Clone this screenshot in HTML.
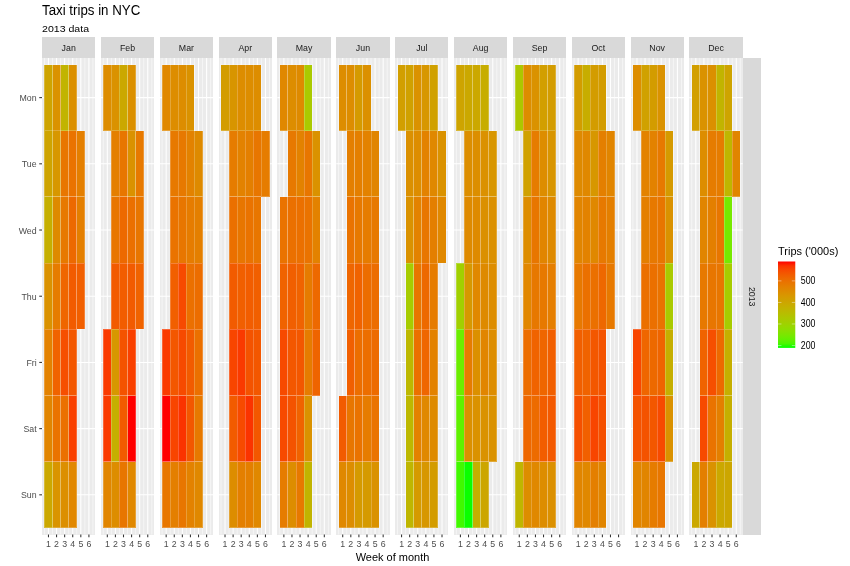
<!DOCTYPE html><html><head><meta charset="utf-8"><style>html,body{margin:0;padding:0;background:#fff;overflow:hidden}svg{display:block;will-change:transform}</style></head><body>
<svg width="850" height="566" viewBox="0 0 850 566">
<rect x="0" y="0" width="850" height="566" fill="#FFFFFF"/>
<text transform="translate(42.00,14.60) scale(1,1.09)" font-size="13.3" font-family="Liberation Sans, sans-serif" fill="#000000">Taxi trips in NYC</text>
<text transform="translate(42.00,32.00) scale(1,0.93)" font-size="10.6" font-family="Liberation Sans, sans-serif" fill="#000000">2013 data</text>
<rect x="42.00" y="37.2" width="53.38" height="20.70" fill="#D9D9D9" shape-rendering="crispEdges"/>
<text transform="translate(68.69,50.70) scale(1,1.1)" font-size="8.8" font-family="Liberation Sans, sans-serif" fill="#1A1A1A" text-anchor="middle">Jan</text>
<rect x="42.00" y="57.9" width="53.38" height="476.64" fill="#EBEBEB" shape-rendering="crispEdges"/>
<line x1="44.43" y1="57.9" x2="44.43" y2="534.5400000000001" stroke="#FFFFFF" stroke-width="0.53"/>
<line x1="52.51" y1="57.9" x2="52.51" y2="534.5400000000001" stroke="#FFFFFF" stroke-width="0.53"/>
<line x1="60.60" y1="57.9" x2="60.60" y2="534.5400000000001" stroke="#FFFFFF" stroke-width="0.53"/>
<line x1="68.69" y1="57.9" x2="68.69" y2="534.5400000000001" stroke="#FFFFFF" stroke-width="0.53"/>
<line x1="76.78" y1="57.9" x2="76.78" y2="534.5400000000001" stroke="#FFFFFF" stroke-width="0.53"/>
<line x1="84.87" y1="57.9" x2="84.87" y2="534.5400000000001" stroke="#FFFFFF" stroke-width="0.53"/>
<line x1="92.95" y1="57.9" x2="92.95" y2="534.5400000000001" stroke="#FFFFFF" stroke-width="0.53"/>
<line x1="48.47" y1="57.9" x2="48.47" y2="534.5400000000001" stroke="#FFFFFF" stroke-width="1.07"/>
<line x1="56.56" y1="57.9" x2="56.56" y2="534.5400000000001" stroke="#FFFFFF" stroke-width="1.07"/>
<line x1="64.65" y1="57.9" x2="64.65" y2="534.5400000000001" stroke="#FFFFFF" stroke-width="1.07"/>
<line x1="72.73" y1="57.9" x2="72.73" y2="534.5400000000001" stroke="#FFFFFF" stroke-width="1.07"/>
<line x1="80.82" y1="57.9" x2="80.82" y2="534.5400000000001" stroke="#FFFFFF" stroke-width="1.07"/>
<line x1="88.91" y1="57.9" x2="88.91" y2="534.5400000000001" stroke="#FFFFFF" stroke-width="1.07"/>
<line x1="42.00" y1="97.62" x2="95.38" y2="97.62" stroke="#FFFFFF" stroke-width="1.07"/>
<line x1="42.00" y1="163.82" x2="95.38" y2="163.82" stroke="#FFFFFF" stroke-width="1.07"/>
<line x1="42.00" y1="230.02" x2="95.38" y2="230.02" stroke="#FFFFFF" stroke-width="1.07"/>
<line x1="42.00" y1="296.22" x2="95.38" y2="296.22" stroke="#FFFFFF" stroke-width="1.07"/>
<line x1="42.00" y1="362.42" x2="95.38" y2="362.42" stroke="#FFFFFF" stroke-width="1.07"/>
<line x1="42.00" y1="428.62" x2="95.38" y2="428.62" stroke="#FFFFFF" stroke-width="1.07"/>
<line x1="42.00" y1="494.82" x2="95.38" y2="494.82" stroke="#FFFFFF" stroke-width="1.07"/>
<rect x="44.43" y="130.72" width="8.09" height="66.20" fill="#CEA400" stroke="#FFFFFF" stroke-opacity="0.22" stroke-width="1" shape-rendering="crispEdges"/>
<rect x="44.43" y="196.92" width="8.09" height="66.20" fill="#C5AF00" stroke="#FFFFFF" stroke-opacity="0.22" stroke-width="1" shape-rendering="crispEdges"/>
<rect x="44.43" y="263.12" width="8.09" height="66.20" fill="#DA9200" stroke="#FFFFFF" stroke-opacity="0.22" stroke-width="1" shape-rendering="crispEdges"/>
<rect x="44.43" y="329.32" width="8.09" height="66.20" fill="#E38200" stroke="#FFFFFF" stroke-opacity="0.22" stroke-width="1" shape-rendering="crispEdges"/>
<rect x="44.43" y="395.52" width="8.09" height="66.20" fill="#E18500" stroke="#FFFFFF" stroke-opacity="0.22" stroke-width="1" shape-rendering="crispEdges"/>
<rect x="44.43" y="461.72" width="8.09" height="66.20" fill="#CBA800" stroke="#FFFFFF" stroke-opacity="0.22" stroke-width="1" shape-rendering="crispEdges"/>
<rect x="44.43" y="64.52" width="8.09" height="66.20" fill="#CEA400" stroke="#FFFFFF" stroke-opacity="0.22" stroke-width="1" shape-rendering="crispEdges"/>
<rect x="52.51" y="130.72" width="8.09" height="66.20" fill="#D79700" stroke="#FFFFFF" stroke-opacity="0.22" stroke-width="1" shape-rendering="crispEdges"/>
<rect x="52.51" y="196.92" width="8.09" height="66.20" fill="#DE8A00" stroke="#FFFFFF" stroke-opacity="0.22" stroke-width="1" shape-rendering="crispEdges"/>
<rect x="52.51" y="263.12" width="8.09" height="66.20" fill="#E67C00" stroke="#FFFFFF" stroke-opacity="0.22" stroke-width="1" shape-rendering="crispEdges"/>
<rect x="52.51" y="329.32" width="8.09" height="66.20" fill="#F06300" stroke="#FFFFFF" stroke-opacity="0.22" stroke-width="1" shape-rendering="crispEdges"/>
<rect x="52.51" y="395.52" width="8.09" height="66.20" fill="#EA7300" stroke="#FFFFFF" stroke-opacity="0.22" stroke-width="1" shape-rendering="crispEdges"/>
<rect x="52.51" y="461.72" width="8.09" height="66.20" fill="#D99400" stroke="#FFFFFF" stroke-opacity="0.22" stroke-width="1" shape-rendering="crispEdges"/>
<rect x="52.51" y="64.52" width="8.09" height="66.20" fill="#DA9200" stroke="#FFFFFF" stroke-opacity="0.22" stroke-width="1" shape-rendering="crispEdges"/>
<rect x="60.60" y="130.72" width="8.09" height="66.20" fill="#E87600" stroke="#FFFFFF" stroke-opacity="0.22" stroke-width="1" shape-rendering="crispEdges"/>
<rect x="60.60" y="196.92" width="8.09" height="66.20" fill="#E77900" stroke="#FFFFFF" stroke-opacity="0.22" stroke-width="1" shape-rendering="crispEdges"/>
<rect x="60.60" y="263.12" width="8.09" height="66.20" fill="#EF6600" stroke="#FFFFFF" stroke-opacity="0.22" stroke-width="1" shape-rendering="crispEdges"/>
<rect x="60.60" y="329.32" width="8.09" height="66.20" fill="#F64F00" stroke="#FFFFFF" stroke-opacity="0.22" stroke-width="1" shape-rendering="crispEdges"/>
<rect x="60.60" y="395.52" width="8.09" height="66.20" fill="#EB7000" stroke="#FFFFFF" stroke-opacity="0.22" stroke-width="1" shape-rendering="crispEdges"/>
<rect x="60.60" y="461.72" width="8.09" height="66.20" fill="#DC8F00" stroke="#FFFFFF" stroke-opacity="0.22" stroke-width="1" shape-rendering="crispEdges"/>
<rect x="60.60" y="64.52" width="8.09" height="66.20" fill="#C1B400" stroke="#FFFFFF" stroke-opacity="0.22" stroke-width="1" shape-rendering="crispEdges"/>
<rect x="68.69" y="130.72" width="8.09" height="66.20" fill="#EA7300" stroke="#FFFFFF" stroke-opacity="0.22" stroke-width="1" shape-rendering="crispEdges"/>
<rect x="68.69" y="196.92" width="8.09" height="66.20" fill="#ED6900" stroke="#FFFFFF" stroke-opacity="0.22" stroke-width="1" shape-rendering="crispEdges"/>
<rect x="68.69" y="263.12" width="8.09" height="66.20" fill="#F25B00" stroke="#FFFFFF" stroke-opacity="0.22" stroke-width="1" shape-rendering="crispEdges"/>
<rect x="68.69" y="329.32" width="8.09" height="66.20" fill="#F35700" stroke="#FFFFFF" stroke-opacity="0.22" stroke-width="1" shape-rendering="crispEdges"/>
<rect x="68.69" y="395.52" width="8.09" height="66.20" fill="#F94000" stroke="#FFFFFF" stroke-opacity="0.22" stroke-width="1" shape-rendering="crispEdges"/>
<rect x="68.69" y="461.72" width="8.09" height="66.20" fill="#E18700" stroke="#FFFFFF" stroke-opacity="0.22" stroke-width="1" shape-rendering="crispEdges"/>
<rect x="68.69" y="64.52" width="8.09" height="66.20" fill="#DB9000" stroke="#FFFFFF" stroke-opacity="0.22" stroke-width="1" shape-rendering="crispEdges"/>
<rect x="76.78" y="130.72" width="8.09" height="66.20" fill="#E47F00" stroke="#FFFFFF" stroke-opacity="0.22" stroke-width="1" shape-rendering="crispEdges"/>
<rect x="76.78" y="196.92" width="8.09" height="66.20" fill="#E47F00" stroke="#FFFFFF" stroke-opacity="0.22" stroke-width="1" shape-rendering="crispEdges"/>
<rect x="76.78" y="263.12" width="8.09" height="66.20" fill="#F15F00" stroke="#FFFFFF" stroke-opacity="0.22" stroke-width="1" shape-rendering="crispEdges"/>
<line x1="48.47" y1="534.5400000000001" x2="48.47" y2="537.29" stroke="#333333" stroke-width="1.07"/>
<text transform="translate(48.47,546.90) scale(1,1.12)" font-size="8.8" font-family="Liberation Sans, sans-serif" fill="#4D4D4D" text-anchor="middle">1</text>
<line x1="56.56" y1="534.5400000000001" x2="56.56" y2="537.29" stroke="#333333" stroke-width="1.07"/>
<text transform="translate(56.56,546.90) scale(1,1.12)" font-size="8.8" font-family="Liberation Sans, sans-serif" fill="#4D4D4D" text-anchor="middle">2</text>
<line x1="64.65" y1="534.5400000000001" x2="64.65" y2="537.29" stroke="#333333" stroke-width="1.07"/>
<text transform="translate(64.65,546.90) scale(1,1.12)" font-size="8.8" font-family="Liberation Sans, sans-serif" fill="#4D4D4D" text-anchor="middle">3</text>
<line x1="72.73" y1="534.5400000000001" x2="72.73" y2="537.29" stroke="#333333" stroke-width="1.07"/>
<text transform="translate(72.73,546.90) scale(1,1.12)" font-size="8.8" font-family="Liberation Sans, sans-serif" fill="#4D4D4D" text-anchor="middle">4</text>
<line x1="80.82" y1="534.5400000000001" x2="80.82" y2="537.29" stroke="#333333" stroke-width="1.07"/>
<text transform="translate(80.82,546.90) scale(1,1.12)" font-size="8.8" font-family="Liberation Sans, sans-serif" fill="#4D4D4D" text-anchor="middle">5</text>
<line x1="88.91" y1="534.5400000000001" x2="88.91" y2="537.29" stroke="#333333" stroke-width="1.07"/>
<text transform="translate(88.91,546.90) scale(1,1.12)" font-size="8.8" font-family="Liberation Sans, sans-serif" fill="#4D4D4D" text-anchor="middle">6</text>
<rect x="100.85" y="37.2" width="53.38" height="20.70" fill="#D9D9D9" shape-rendering="crispEdges"/>
<text transform="translate(127.54,50.70) scale(1,1.1)" font-size="8.8" font-family="Liberation Sans, sans-serif" fill="#1A1A1A" text-anchor="middle">Feb</text>
<rect x="100.85" y="57.9" width="53.38" height="476.64" fill="#EBEBEB" shape-rendering="crispEdges"/>
<line x1="103.28" y1="57.9" x2="103.28" y2="534.5400000000001" stroke="#FFFFFF" stroke-width="0.53"/>
<line x1="111.36" y1="57.9" x2="111.36" y2="534.5400000000001" stroke="#FFFFFF" stroke-width="0.53"/>
<line x1="119.45" y1="57.9" x2="119.45" y2="534.5400000000001" stroke="#FFFFFF" stroke-width="0.53"/>
<line x1="127.54" y1="57.9" x2="127.54" y2="534.5400000000001" stroke="#FFFFFF" stroke-width="0.53"/>
<line x1="135.63" y1="57.9" x2="135.63" y2="534.5400000000001" stroke="#FFFFFF" stroke-width="0.53"/>
<line x1="143.72" y1="57.9" x2="143.72" y2="534.5400000000001" stroke="#FFFFFF" stroke-width="0.53"/>
<line x1="151.80" y1="57.9" x2="151.80" y2="534.5400000000001" stroke="#FFFFFF" stroke-width="0.53"/>
<line x1="107.32" y1="57.9" x2="107.32" y2="534.5400000000001" stroke="#FFFFFF" stroke-width="1.07"/>
<line x1="115.41" y1="57.9" x2="115.41" y2="534.5400000000001" stroke="#FFFFFF" stroke-width="1.07"/>
<line x1="123.50" y1="57.9" x2="123.50" y2="534.5400000000001" stroke="#FFFFFF" stroke-width="1.07"/>
<line x1="131.58" y1="57.9" x2="131.58" y2="534.5400000000001" stroke="#FFFFFF" stroke-width="1.07"/>
<line x1="139.67" y1="57.9" x2="139.67" y2="534.5400000000001" stroke="#FFFFFF" stroke-width="1.07"/>
<line x1="147.76" y1="57.9" x2="147.76" y2="534.5400000000001" stroke="#FFFFFF" stroke-width="1.07"/>
<line x1="100.85" y1="97.62" x2="154.23" y2="97.62" stroke="#FFFFFF" stroke-width="1.07"/>
<line x1="100.85" y1="163.82" x2="154.23" y2="163.82" stroke="#FFFFFF" stroke-width="1.07"/>
<line x1="100.85" y1="230.02" x2="154.23" y2="230.02" stroke="#FFFFFF" stroke-width="1.07"/>
<line x1="100.85" y1="296.22" x2="154.23" y2="296.22" stroke="#FFFFFF" stroke-width="1.07"/>
<line x1="100.85" y1="362.42" x2="154.23" y2="362.42" stroke="#FFFFFF" stroke-width="1.07"/>
<line x1="100.85" y1="428.62" x2="154.23" y2="428.62" stroke="#FFFFFF" stroke-width="1.07"/>
<line x1="100.85" y1="494.82" x2="154.23" y2="494.82" stroke="#FFFFFF" stroke-width="1.07"/>
<rect x="103.28" y="329.32" width="8.09" height="66.20" fill="#FA3A00" stroke="#FFFFFF" stroke-opacity="0.22" stroke-width="1" shape-rendering="crispEdges"/>
<rect x="103.28" y="395.52" width="8.09" height="66.20" fill="#FA3A00" stroke="#FFFFFF" stroke-opacity="0.22" stroke-width="1" shape-rendering="crispEdges"/>
<rect x="103.28" y="461.72" width="8.09" height="66.20" fill="#E18500" stroke="#FFFFFF" stroke-opacity="0.22" stroke-width="1" shape-rendering="crispEdges"/>
<rect x="103.28" y="64.52" width="8.09" height="66.20" fill="#DD8D00" stroke="#FFFFFF" stroke-opacity="0.22" stroke-width="1" shape-rendering="crispEdges"/>
<rect x="111.36" y="130.72" width="8.09" height="66.20" fill="#E47F00" stroke="#FFFFFF" stroke-opacity="0.22" stroke-width="1" shape-rendering="crispEdges"/>
<rect x="111.36" y="196.92" width="8.09" height="66.20" fill="#E87600" stroke="#FFFFFF" stroke-opacity="0.22" stroke-width="1" shape-rendering="crispEdges"/>
<rect x="111.36" y="263.12" width="8.09" height="66.20" fill="#F25B00" stroke="#FFFFFF" stroke-opacity="0.22" stroke-width="1" shape-rendering="crispEdges"/>
<rect x="111.36" y="329.32" width="8.09" height="66.20" fill="#D79700" stroke="#FFFFFF" stroke-opacity="0.22" stroke-width="1" shape-rendering="crispEdges"/>
<rect x="111.36" y="395.52" width="8.09" height="66.20" fill="#C5AF00" stroke="#FFFFFF" stroke-opacity="0.22" stroke-width="1" shape-rendering="crispEdges"/>
<rect x="111.36" y="461.72" width="8.09" height="66.20" fill="#DD8D00" stroke="#FFFFFF" stroke-opacity="0.22" stroke-width="1" shape-rendering="crispEdges"/>
<rect x="111.36" y="64.52" width="8.09" height="66.20" fill="#DA9200" stroke="#FFFFFF" stroke-opacity="0.22" stroke-width="1" shape-rendering="crispEdges"/>
<rect x="119.45" y="130.72" width="8.09" height="66.20" fill="#E87600" stroke="#FFFFFF" stroke-opacity="0.22" stroke-width="1" shape-rendering="crispEdges"/>
<rect x="119.45" y="196.92" width="8.09" height="66.20" fill="#ED6900" stroke="#FFFFFF" stroke-opacity="0.22" stroke-width="1" shape-rendering="crispEdges"/>
<rect x="119.45" y="263.12" width="8.09" height="66.20" fill="#F25D00" stroke="#FFFFFF" stroke-opacity="0.22" stroke-width="1" shape-rendering="crispEdges"/>
<rect x="119.45" y="329.32" width="8.09" height="66.20" fill="#F45300" stroke="#FFFFFF" stroke-opacity="0.22" stroke-width="1" shape-rendering="crispEdges"/>
<rect x="119.45" y="395.52" width="8.09" height="66.20" fill="#F25B00" stroke="#FFFFFF" stroke-opacity="0.22" stroke-width="1" shape-rendering="crispEdges"/>
<rect x="119.45" y="461.72" width="8.09" height="66.20" fill="#E87600" stroke="#FFFFFF" stroke-opacity="0.22" stroke-width="1" shape-rendering="crispEdges"/>
<rect x="119.45" y="64.52" width="8.09" height="66.20" fill="#CBA800" stroke="#FFFFFF" stroke-opacity="0.22" stroke-width="1" shape-rendering="crispEdges"/>
<rect x="127.54" y="130.72" width="8.09" height="66.20" fill="#DA9200" stroke="#FFFFFF" stroke-opacity="0.22" stroke-width="1" shape-rendering="crispEdges"/>
<rect x="127.54" y="196.92" width="8.09" height="66.20" fill="#EB7000" stroke="#FFFFFF" stroke-opacity="0.22" stroke-width="1" shape-rendering="crispEdges"/>
<rect x="127.54" y="263.12" width="8.09" height="66.20" fill="#F25B00" stroke="#FFFFFF" stroke-opacity="0.22" stroke-width="1" shape-rendering="crispEdges"/>
<rect x="127.54" y="329.32" width="8.09" height="66.20" fill="#F94000" stroke="#FFFFFF" stroke-opacity="0.22" stroke-width="1" shape-rendering="crispEdges"/>
<rect x="127.54" y="395.52" width="8.09" height="66.20" fill="#FF0000" stroke="#FFFFFF" stroke-opacity="0.22" stroke-width="1" shape-rendering="crispEdges"/>
<rect x="127.54" y="461.72" width="8.09" height="66.20" fill="#E08800" stroke="#FFFFFF" stroke-opacity="0.22" stroke-width="1" shape-rendering="crispEdges"/>
<rect x="127.54" y="64.52" width="8.09" height="66.20" fill="#DB9000" stroke="#FFFFFF" stroke-opacity="0.22" stroke-width="1" shape-rendering="crispEdges"/>
<rect x="135.63" y="130.72" width="8.09" height="66.20" fill="#E77900" stroke="#FFFFFF" stroke-opacity="0.22" stroke-width="1" shape-rendering="crispEdges"/>
<rect x="135.63" y="196.92" width="8.09" height="66.20" fill="#E87600" stroke="#FFFFFF" stroke-opacity="0.22" stroke-width="1" shape-rendering="crispEdges"/>
<rect x="135.63" y="263.12" width="8.09" height="66.20" fill="#F06300" stroke="#FFFFFF" stroke-opacity="0.22" stroke-width="1" shape-rendering="crispEdges"/>
<line x1="107.32" y1="534.5400000000001" x2="107.32" y2="537.29" stroke="#333333" stroke-width="1.07"/>
<text transform="translate(107.32,546.90) scale(1,1.12)" font-size="8.8" font-family="Liberation Sans, sans-serif" fill="#4D4D4D" text-anchor="middle">1</text>
<line x1="115.41" y1="534.5400000000001" x2="115.41" y2="537.29" stroke="#333333" stroke-width="1.07"/>
<text transform="translate(115.41,546.90) scale(1,1.12)" font-size="8.8" font-family="Liberation Sans, sans-serif" fill="#4D4D4D" text-anchor="middle">2</text>
<line x1="123.50" y1="534.5400000000001" x2="123.50" y2="537.29" stroke="#333333" stroke-width="1.07"/>
<text transform="translate(123.50,546.90) scale(1,1.12)" font-size="8.8" font-family="Liberation Sans, sans-serif" fill="#4D4D4D" text-anchor="middle">3</text>
<line x1="131.58" y1="534.5400000000001" x2="131.58" y2="537.29" stroke="#333333" stroke-width="1.07"/>
<text transform="translate(131.58,546.90) scale(1,1.12)" font-size="8.8" font-family="Liberation Sans, sans-serif" fill="#4D4D4D" text-anchor="middle">4</text>
<line x1="139.67" y1="534.5400000000001" x2="139.67" y2="537.29" stroke="#333333" stroke-width="1.07"/>
<text transform="translate(139.67,546.90) scale(1,1.12)" font-size="8.8" font-family="Liberation Sans, sans-serif" fill="#4D4D4D" text-anchor="middle">5</text>
<line x1="147.76" y1="534.5400000000001" x2="147.76" y2="537.29" stroke="#333333" stroke-width="1.07"/>
<text transform="translate(147.76,546.90) scale(1,1.12)" font-size="8.8" font-family="Liberation Sans, sans-serif" fill="#4D4D4D" text-anchor="middle">6</text>
<rect x="159.70" y="37.2" width="53.38" height="20.70" fill="#D9D9D9" shape-rendering="crispEdges"/>
<text transform="translate(186.39,50.70) scale(1,1.1)" font-size="8.8" font-family="Liberation Sans, sans-serif" fill="#1A1A1A" text-anchor="middle">Mar</text>
<rect x="159.70" y="57.9" width="53.38" height="476.64" fill="#EBEBEB" shape-rendering="crispEdges"/>
<line x1="162.13" y1="57.9" x2="162.13" y2="534.5400000000001" stroke="#FFFFFF" stroke-width="0.53"/>
<line x1="170.21" y1="57.9" x2="170.21" y2="534.5400000000001" stroke="#FFFFFF" stroke-width="0.53"/>
<line x1="178.30" y1="57.9" x2="178.30" y2="534.5400000000001" stroke="#FFFFFF" stroke-width="0.53"/>
<line x1="186.39" y1="57.9" x2="186.39" y2="534.5400000000001" stroke="#FFFFFF" stroke-width="0.53"/>
<line x1="194.48" y1="57.9" x2="194.48" y2="534.5400000000001" stroke="#FFFFFF" stroke-width="0.53"/>
<line x1="202.57" y1="57.9" x2="202.57" y2="534.5400000000001" stroke="#FFFFFF" stroke-width="0.53"/>
<line x1="210.65" y1="57.9" x2="210.65" y2="534.5400000000001" stroke="#FFFFFF" stroke-width="0.53"/>
<line x1="166.17" y1="57.9" x2="166.17" y2="534.5400000000001" stroke="#FFFFFF" stroke-width="1.07"/>
<line x1="174.26" y1="57.9" x2="174.26" y2="534.5400000000001" stroke="#FFFFFF" stroke-width="1.07"/>
<line x1="182.35" y1="57.9" x2="182.35" y2="534.5400000000001" stroke="#FFFFFF" stroke-width="1.07"/>
<line x1="190.43" y1="57.9" x2="190.43" y2="534.5400000000001" stroke="#FFFFFF" stroke-width="1.07"/>
<line x1="198.52" y1="57.9" x2="198.52" y2="534.5400000000001" stroke="#FFFFFF" stroke-width="1.07"/>
<line x1="206.61" y1="57.9" x2="206.61" y2="534.5400000000001" stroke="#FFFFFF" stroke-width="1.07"/>
<line x1="159.70" y1="97.62" x2="213.08" y2="97.62" stroke="#FFFFFF" stroke-width="1.07"/>
<line x1="159.70" y1="163.82" x2="213.08" y2="163.82" stroke="#FFFFFF" stroke-width="1.07"/>
<line x1="159.70" y1="230.02" x2="213.08" y2="230.02" stroke="#FFFFFF" stroke-width="1.07"/>
<line x1="159.70" y1="296.22" x2="213.08" y2="296.22" stroke="#FFFFFF" stroke-width="1.07"/>
<line x1="159.70" y1="362.42" x2="213.08" y2="362.42" stroke="#FFFFFF" stroke-width="1.07"/>
<line x1="159.70" y1="428.62" x2="213.08" y2="428.62" stroke="#FFFFFF" stroke-width="1.07"/>
<line x1="159.70" y1="494.82" x2="213.08" y2="494.82" stroke="#FFFFFF" stroke-width="1.07"/>
<rect x="162.13" y="329.32" width="8.09" height="66.20" fill="#FA3A00" stroke="#FFFFFF" stroke-opacity="0.22" stroke-width="1" shape-rendering="crispEdges"/>
<rect x="162.13" y="395.52" width="8.09" height="66.20" fill="#FF0000" stroke="#FFFFFF" stroke-opacity="0.22" stroke-width="1" shape-rendering="crispEdges"/>
<rect x="162.13" y="461.72" width="8.09" height="66.20" fill="#E87600" stroke="#FFFFFF" stroke-opacity="0.22" stroke-width="1" shape-rendering="crispEdges"/>
<rect x="162.13" y="64.52" width="8.09" height="66.20" fill="#E08800" stroke="#FFFFFF" stroke-opacity="0.22" stroke-width="1" shape-rendering="crispEdges"/>
<rect x="170.21" y="130.72" width="8.09" height="66.20" fill="#E77900" stroke="#FFFFFF" stroke-opacity="0.22" stroke-width="1" shape-rendering="crispEdges"/>
<rect x="170.21" y="196.92" width="8.09" height="66.20" fill="#EA7300" stroke="#FFFFFF" stroke-opacity="0.22" stroke-width="1" shape-rendering="crispEdges"/>
<rect x="170.21" y="263.12" width="8.09" height="66.20" fill="#F15F00" stroke="#FFFFFF" stroke-opacity="0.22" stroke-width="1" shape-rendering="crispEdges"/>
<rect x="170.21" y="329.32" width="8.09" height="66.20" fill="#F35700" stroke="#FFFFFF" stroke-opacity="0.22" stroke-width="1" shape-rendering="crispEdges"/>
<rect x="170.21" y="395.52" width="8.09" height="66.20" fill="#F84500" stroke="#FFFFFF" stroke-opacity="0.22" stroke-width="1" shape-rendering="crispEdges"/>
<rect x="170.21" y="461.72" width="8.09" height="66.20" fill="#E47F00" stroke="#FFFFFF" stroke-opacity="0.22" stroke-width="1" shape-rendering="crispEdges"/>
<rect x="170.21" y="64.52" width="8.09" height="66.20" fill="#DD8D00" stroke="#FFFFFF" stroke-opacity="0.22" stroke-width="1" shape-rendering="crispEdges"/>
<rect x="178.30" y="130.72" width="8.09" height="66.20" fill="#E77900" stroke="#FFFFFF" stroke-opacity="0.22" stroke-width="1" shape-rendering="crispEdges"/>
<rect x="178.30" y="196.92" width="8.09" height="66.20" fill="#E87600" stroke="#FFFFFF" stroke-opacity="0.22" stroke-width="1" shape-rendering="crispEdges"/>
<rect x="178.30" y="263.12" width="8.09" height="66.20" fill="#F74A00" stroke="#FFFFFF" stroke-opacity="0.22" stroke-width="1" shape-rendering="crispEdges"/>
<rect x="178.30" y="329.32" width="8.09" height="66.20" fill="#F74A00" stroke="#FFFFFF" stroke-opacity="0.22" stroke-width="1" shape-rendering="crispEdges"/>
<rect x="178.30" y="395.52" width="8.09" height="66.20" fill="#FB3300" stroke="#FFFFFF" stroke-opacity="0.22" stroke-width="1" shape-rendering="crispEdges"/>
<rect x="178.30" y="461.72" width="8.09" height="66.20" fill="#E87600" stroke="#FFFFFF" stroke-opacity="0.22" stroke-width="1" shape-rendering="crispEdges"/>
<rect x="178.30" y="64.52" width="8.09" height="66.20" fill="#DD8D00" stroke="#FFFFFF" stroke-opacity="0.22" stroke-width="1" shape-rendering="crispEdges"/>
<rect x="186.39" y="130.72" width="8.09" height="66.20" fill="#E38200" stroke="#FFFFFF" stroke-opacity="0.22" stroke-width="1" shape-rendering="crispEdges"/>
<rect x="186.39" y="196.92" width="8.09" height="66.20" fill="#E67C00" stroke="#FFFFFF" stroke-opacity="0.22" stroke-width="1" shape-rendering="crispEdges"/>
<rect x="186.39" y="263.12" width="8.09" height="66.20" fill="#EB7000" stroke="#FFFFFF" stroke-opacity="0.22" stroke-width="1" shape-rendering="crispEdges"/>
<rect x="186.39" y="329.32" width="8.09" height="66.20" fill="#F25B00" stroke="#FFFFFF" stroke-opacity="0.22" stroke-width="1" shape-rendering="crispEdges"/>
<rect x="186.39" y="395.52" width="8.09" height="66.20" fill="#F35700" stroke="#FFFFFF" stroke-opacity="0.22" stroke-width="1" shape-rendering="crispEdges"/>
<rect x="186.39" y="461.72" width="8.09" height="66.20" fill="#E38200" stroke="#FFFFFF" stroke-opacity="0.22" stroke-width="1" shape-rendering="crispEdges"/>
<rect x="186.39" y="64.52" width="8.09" height="66.20" fill="#DA9200" stroke="#FFFFFF" stroke-opacity="0.22" stroke-width="1" shape-rendering="crispEdges"/>
<rect x="194.48" y="130.72" width="8.09" height="66.20" fill="#DE8A00" stroke="#FFFFFF" stroke-opacity="0.22" stroke-width="1" shape-rendering="crispEdges"/>
<rect x="194.48" y="196.92" width="8.09" height="66.20" fill="#E47F00" stroke="#FFFFFF" stroke-opacity="0.22" stroke-width="1" shape-rendering="crispEdges"/>
<rect x="194.48" y="263.12" width="8.09" height="66.20" fill="#EC6D00" stroke="#FFFFFF" stroke-opacity="0.22" stroke-width="1" shape-rendering="crispEdges"/>
<rect x="194.48" y="329.32" width="8.09" height="66.20" fill="#EB7000" stroke="#FFFFFF" stroke-opacity="0.22" stroke-width="1" shape-rendering="crispEdges"/>
<rect x="194.48" y="395.52" width="8.09" height="66.20" fill="#E77900" stroke="#FFFFFF" stroke-opacity="0.22" stroke-width="1" shape-rendering="crispEdges"/>
<rect x="194.48" y="461.72" width="8.09" height="66.20" fill="#E08800" stroke="#FFFFFF" stroke-opacity="0.22" stroke-width="1" shape-rendering="crispEdges"/>
<line x1="166.17" y1="534.5400000000001" x2="166.17" y2="537.29" stroke="#333333" stroke-width="1.07"/>
<text transform="translate(166.17,546.90) scale(1,1.12)" font-size="8.8" font-family="Liberation Sans, sans-serif" fill="#4D4D4D" text-anchor="middle">1</text>
<line x1="174.26" y1="534.5400000000001" x2="174.26" y2="537.29" stroke="#333333" stroke-width="1.07"/>
<text transform="translate(174.26,546.90) scale(1,1.12)" font-size="8.8" font-family="Liberation Sans, sans-serif" fill="#4D4D4D" text-anchor="middle">2</text>
<line x1="182.35" y1="534.5400000000001" x2="182.35" y2="537.29" stroke="#333333" stroke-width="1.07"/>
<text transform="translate(182.35,546.90) scale(1,1.12)" font-size="8.8" font-family="Liberation Sans, sans-serif" fill="#4D4D4D" text-anchor="middle">3</text>
<line x1="190.43" y1="534.5400000000001" x2="190.43" y2="537.29" stroke="#333333" stroke-width="1.07"/>
<text transform="translate(190.43,546.90) scale(1,1.12)" font-size="8.8" font-family="Liberation Sans, sans-serif" fill="#4D4D4D" text-anchor="middle">4</text>
<line x1="198.52" y1="534.5400000000001" x2="198.52" y2="537.29" stroke="#333333" stroke-width="1.07"/>
<text transform="translate(198.52,546.90) scale(1,1.12)" font-size="8.8" font-family="Liberation Sans, sans-serif" fill="#4D4D4D" text-anchor="middle">5</text>
<line x1="206.61" y1="534.5400000000001" x2="206.61" y2="537.29" stroke="#333333" stroke-width="1.07"/>
<text transform="translate(206.61,546.90) scale(1,1.12)" font-size="8.8" font-family="Liberation Sans, sans-serif" fill="#4D4D4D" text-anchor="middle">6</text>
<rect x="218.55" y="37.2" width="53.38" height="20.70" fill="#D9D9D9" shape-rendering="crispEdges"/>
<text transform="translate(245.24,50.70) scale(1,1.1)" font-size="8.8" font-family="Liberation Sans, sans-serif" fill="#1A1A1A" text-anchor="middle">Apr</text>
<rect x="218.55" y="57.9" width="53.38" height="476.64" fill="#EBEBEB" shape-rendering="crispEdges"/>
<line x1="220.98" y1="57.9" x2="220.98" y2="534.5400000000001" stroke="#FFFFFF" stroke-width="0.53"/>
<line x1="229.06" y1="57.9" x2="229.06" y2="534.5400000000001" stroke="#FFFFFF" stroke-width="0.53"/>
<line x1="237.15" y1="57.9" x2="237.15" y2="534.5400000000001" stroke="#FFFFFF" stroke-width="0.53"/>
<line x1="245.24" y1="57.9" x2="245.24" y2="534.5400000000001" stroke="#FFFFFF" stroke-width="0.53"/>
<line x1="253.33" y1="57.9" x2="253.33" y2="534.5400000000001" stroke="#FFFFFF" stroke-width="0.53"/>
<line x1="261.42" y1="57.9" x2="261.42" y2="534.5400000000001" stroke="#FFFFFF" stroke-width="0.53"/>
<line x1="269.50" y1="57.9" x2="269.50" y2="534.5400000000001" stroke="#FFFFFF" stroke-width="0.53"/>
<line x1="225.02" y1="57.9" x2="225.02" y2="534.5400000000001" stroke="#FFFFFF" stroke-width="1.07"/>
<line x1="233.11" y1="57.9" x2="233.11" y2="534.5400000000001" stroke="#FFFFFF" stroke-width="1.07"/>
<line x1="241.20" y1="57.9" x2="241.20" y2="534.5400000000001" stroke="#FFFFFF" stroke-width="1.07"/>
<line x1="249.28" y1="57.9" x2="249.28" y2="534.5400000000001" stroke="#FFFFFF" stroke-width="1.07"/>
<line x1="257.37" y1="57.9" x2="257.37" y2="534.5400000000001" stroke="#FFFFFF" stroke-width="1.07"/>
<line x1="265.46" y1="57.9" x2="265.46" y2="534.5400000000001" stroke="#FFFFFF" stroke-width="1.07"/>
<line x1="218.55" y1="97.62" x2="271.93" y2="97.62" stroke="#FFFFFF" stroke-width="1.07"/>
<line x1="218.55" y1="163.82" x2="271.93" y2="163.82" stroke="#FFFFFF" stroke-width="1.07"/>
<line x1="218.55" y1="230.02" x2="271.93" y2="230.02" stroke="#FFFFFF" stroke-width="1.07"/>
<line x1="218.55" y1="296.22" x2="271.93" y2="296.22" stroke="#FFFFFF" stroke-width="1.07"/>
<line x1="218.55" y1="362.42" x2="271.93" y2="362.42" stroke="#FFFFFF" stroke-width="1.07"/>
<line x1="218.55" y1="428.62" x2="271.93" y2="428.62" stroke="#FFFFFF" stroke-width="1.07"/>
<line x1="218.55" y1="494.82" x2="271.93" y2="494.82" stroke="#FFFFFF" stroke-width="1.07"/>
<rect x="220.98" y="64.52" width="8.09" height="66.20" fill="#D39C00" stroke="#FFFFFF" stroke-opacity="0.22" stroke-width="1" shape-rendering="crispEdges"/>
<rect x="229.06" y="130.72" width="8.09" height="66.20" fill="#E67C00" stroke="#FFFFFF" stroke-opacity="0.22" stroke-width="1" shape-rendering="crispEdges"/>
<rect x="229.06" y="196.92" width="8.09" height="66.20" fill="#EB7000" stroke="#FFFFFF" stroke-opacity="0.22" stroke-width="1" shape-rendering="crispEdges"/>
<rect x="229.06" y="263.12" width="8.09" height="66.20" fill="#F25B00" stroke="#FFFFFF" stroke-opacity="0.22" stroke-width="1" shape-rendering="crispEdges"/>
<rect x="229.06" y="329.32" width="8.09" height="66.20" fill="#F84500" stroke="#FFFFFF" stroke-opacity="0.22" stroke-width="1" shape-rendering="crispEdges"/>
<rect x="229.06" y="395.52" width="8.09" height="66.20" fill="#F25B00" stroke="#FFFFFF" stroke-opacity="0.22" stroke-width="1" shape-rendering="crispEdges"/>
<rect x="229.06" y="461.72" width="8.09" height="66.20" fill="#DD8D00" stroke="#FFFFFF" stroke-opacity="0.22" stroke-width="1" shape-rendering="crispEdges"/>
<rect x="229.06" y="64.52" width="8.09" height="66.20" fill="#D89500" stroke="#FFFFFF" stroke-opacity="0.22" stroke-width="1" shape-rendering="crispEdges"/>
<rect x="237.15" y="130.72" width="8.09" height="66.20" fill="#E38200" stroke="#FFFFFF" stroke-opacity="0.22" stroke-width="1" shape-rendering="crispEdges"/>
<rect x="237.15" y="196.92" width="8.09" height="66.20" fill="#E87600" stroke="#FFFFFF" stroke-opacity="0.22" stroke-width="1" shape-rendering="crispEdges"/>
<rect x="237.15" y="263.12" width="8.09" height="66.20" fill="#F15F00" stroke="#FFFFFF" stroke-opacity="0.22" stroke-width="1" shape-rendering="crispEdges"/>
<rect x="237.15" y="329.32" width="8.09" height="66.20" fill="#FA3A00" stroke="#FFFFFF" stroke-opacity="0.22" stroke-width="1" shape-rendering="crispEdges"/>
<rect x="237.15" y="395.52" width="8.09" height="66.20" fill="#F74A00" stroke="#FFFFFF" stroke-opacity="0.22" stroke-width="1" shape-rendering="crispEdges"/>
<rect x="237.15" y="461.72" width="8.09" height="66.20" fill="#E47F00" stroke="#FFFFFF" stroke-opacity="0.22" stroke-width="1" shape-rendering="crispEdges"/>
<rect x="237.15" y="64.52" width="8.09" height="66.20" fill="#DD8D00" stroke="#FFFFFF" stroke-opacity="0.22" stroke-width="1" shape-rendering="crispEdges"/>
<rect x="245.24" y="130.72" width="8.09" height="66.20" fill="#E47F00" stroke="#FFFFFF" stroke-opacity="0.22" stroke-width="1" shape-rendering="crispEdges"/>
<rect x="245.24" y="196.92" width="8.09" height="66.20" fill="#EA7300" stroke="#FFFFFF" stroke-opacity="0.22" stroke-width="1" shape-rendering="crispEdges"/>
<rect x="245.24" y="263.12" width="8.09" height="66.20" fill="#F25D00" stroke="#FFFFFF" stroke-opacity="0.22" stroke-width="1" shape-rendering="crispEdges"/>
<rect x="245.24" y="329.32" width="8.09" height="66.20" fill="#F45300" stroke="#FFFFFF" stroke-opacity="0.22" stroke-width="1" shape-rendering="crispEdges"/>
<rect x="245.24" y="395.52" width="8.09" height="66.20" fill="#FB3300" stroke="#FFFFFF" stroke-opacity="0.22" stroke-width="1" shape-rendering="crispEdges"/>
<rect x="245.24" y="461.72" width="8.09" height="66.20" fill="#E47F00" stroke="#FFFFFF" stroke-opacity="0.22" stroke-width="1" shape-rendering="crispEdges"/>
<rect x="245.24" y="64.52" width="8.09" height="66.20" fill="#DD8D00" stroke="#FFFFFF" stroke-opacity="0.22" stroke-width="1" shape-rendering="crispEdges"/>
<rect x="253.33" y="130.72" width="8.09" height="66.20" fill="#E87600" stroke="#FFFFFF" stroke-opacity="0.22" stroke-width="1" shape-rendering="crispEdges"/>
<rect x="253.33" y="196.92" width="8.09" height="66.20" fill="#E87600" stroke="#FFFFFF" stroke-opacity="0.22" stroke-width="1" shape-rendering="crispEdges"/>
<rect x="253.33" y="263.12" width="8.09" height="66.20" fill="#F15F00" stroke="#FFFFFF" stroke-opacity="0.22" stroke-width="1" shape-rendering="crispEdges"/>
<rect x="253.33" y="329.32" width="8.09" height="66.20" fill="#F35700" stroke="#FFFFFF" stroke-opacity="0.22" stroke-width="1" shape-rendering="crispEdges"/>
<rect x="253.33" y="395.52" width="8.09" height="66.20" fill="#F35700" stroke="#FFFFFF" stroke-opacity="0.22" stroke-width="1" shape-rendering="crispEdges"/>
<rect x="253.33" y="461.72" width="8.09" height="66.20" fill="#E08800" stroke="#FFFFFF" stroke-opacity="0.22" stroke-width="1" shape-rendering="crispEdges"/>
<rect x="253.33" y="64.52" width="8.09" height="66.20" fill="#DD8D00" stroke="#FFFFFF" stroke-opacity="0.22" stroke-width="1" shape-rendering="crispEdges"/>
<rect x="261.42" y="130.72" width="8.09" height="66.20" fill="#E67C00" stroke="#FFFFFF" stroke-opacity="0.22" stroke-width="1" shape-rendering="crispEdges"/>
<line x1="225.02" y1="534.5400000000001" x2="225.02" y2="537.29" stroke="#333333" stroke-width="1.07"/>
<text transform="translate(225.02,546.90) scale(1,1.12)" font-size="8.8" font-family="Liberation Sans, sans-serif" fill="#4D4D4D" text-anchor="middle">1</text>
<line x1="233.11" y1="534.5400000000001" x2="233.11" y2="537.29" stroke="#333333" stroke-width="1.07"/>
<text transform="translate(233.11,546.90) scale(1,1.12)" font-size="8.8" font-family="Liberation Sans, sans-serif" fill="#4D4D4D" text-anchor="middle">2</text>
<line x1="241.20" y1="534.5400000000001" x2="241.20" y2="537.29" stroke="#333333" stroke-width="1.07"/>
<text transform="translate(241.20,546.90) scale(1,1.12)" font-size="8.8" font-family="Liberation Sans, sans-serif" fill="#4D4D4D" text-anchor="middle">3</text>
<line x1="249.28" y1="534.5400000000001" x2="249.28" y2="537.29" stroke="#333333" stroke-width="1.07"/>
<text transform="translate(249.28,546.90) scale(1,1.12)" font-size="8.8" font-family="Liberation Sans, sans-serif" fill="#4D4D4D" text-anchor="middle">4</text>
<line x1="257.37" y1="534.5400000000001" x2="257.37" y2="537.29" stroke="#333333" stroke-width="1.07"/>
<text transform="translate(257.37,546.90) scale(1,1.12)" font-size="8.8" font-family="Liberation Sans, sans-serif" fill="#4D4D4D" text-anchor="middle">5</text>
<line x1="265.46" y1="534.5400000000001" x2="265.46" y2="537.29" stroke="#333333" stroke-width="1.07"/>
<text transform="translate(265.46,546.90) scale(1,1.12)" font-size="8.8" font-family="Liberation Sans, sans-serif" fill="#4D4D4D" text-anchor="middle">6</text>
<rect x="277.40" y="37.2" width="53.38" height="20.70" fill="#D9D9D9" shape-rendering="crispEdges"/>
<text transform="translate(304.09,50.70) scale(1,1.1)" font-size="8.8" font-family="Liberation Sans, sans-serif" fill="#1A1A1A" text-anchor="middle">May</text>
<rect x="277.40" y="57.9" width="53.38" height="476.64" fill="#EBEBEB" shape-rendering="crispEdges"/>
<line x1="279.83" y1="57.9" x2="279.83" y2="534.5400000000001" stroke="#FFFFFF" stroke-width="0.53"/>
<line x1="287.91" y1="57.9" x2="287.91" y2="534.5400000000001" stroke="#FFFFFF" stroke-width="0.53"/>
<line x1="296.00" y1="57.9" x2="296.00" y2="534.5400000000001" stroke="#FFFFFF" stroke-width="0.53"/>
<line x1="304.09" y1="57.9" x2="304.09" y2="534.5400000000001" stroke="#FFFFFF" stroke-width="0.53"/>
<line x1="312.18" y1="57.9" x2="312.18" y2="534.5400000000001" stroke="#FFFFFF" stroke-width="0.53"/>
<line x1="320.27" y1="57.9" x2="320.27" y2="534.5400000000001" stroke="#FFFFFF" stroke-width="0.53"/>
<line x1="328.35" y1="57.9" x2="328.35" y2="534.5400000000001" stroke="#FFFFFF" stroke-width="0.53"/>
<line x1="283.87" y1="57.9" x2="283.87" y2="534.5400000000001" stroke="#FFFFFF" stroke-width="1.07"/>
<line x1="291.96" y1="57.9" x2="291.96" y2="534.5400000000001" stroke="#FFFFFF" stroke-width="1.07"/>
<line x1="300.05" y1="57.9" x2="300.05" y2="534.5400000000001" stroke="#FFFFFF" stroke-width="1.07"/>
<line x1="308.13" y1="57.9" x2="308.13" y2="534.5400000000001" stroke="#FFFFFF" stroke-width="1.07"/>
<line x1="316.22" y1="57.9" x2="316.22" y2="534.5400000000001" stroke="#FFFFFF" stroke-width="1.07"/>
<line x1="324.31" y1="57.9" x2="324.31" y2="534.5400000000001" stroke="#FFFFFF" stroke-width="1.07"/>
<line x1="277.40" y1="97.62" x2="330.78" y2="97.62" stroke="#FFFFFF" stroke-width="1.07"/>
<line x1="277.40" y1="163.82" x2="330.78" y2="163.82" stroke="#FFFFFF" stroke-width="1.07"/>
<line x1="277.40" y1="230.02" x2="330.78" y2="230.02" stroke="#FFFFFF" stroke-width="1.07"/>
<line x1="277.40" y1="296.22" x2="330.78" y2="296.22" stroke="#FFFFFF" stroke-width="1.07"/>
<line x1="277.40" y1="362.42" x2="330.78" y2="362.42" stroke="#FFFFFF" stroke-width="1.07"/>
<line x1="277.40" y1="428.62" x2="330.78" y2="428.62" stroke="#FFFFFF" stroke-width="1.07"/>
<line x1="277.40" y1="494.82" x2="330.78" y2="494.82" stroke="#FFFFFF" stroke-width="1.07"/>
<rect x="279.83" y="196.92" width="8.09" height="66.20" fill="#EA7300" stroke="#FFFFFF" stroke-opacity="0.22" stroke-width="1" shape-rendering="crispEdges"/>
<rect x="279.83" y="263.12" width="8.09" height="66.20" fill="#F06300" stroke="#FFFFFF" stroke-opacity="0.22" stroke-width="1" shape-rendering="crispEdges"/>
<rect x="279.83" y="329.32" width="8.09" height="66.20" fill="#F74A00" stroke="#FFFFFF" stroke-opacity="0.22" stroke-width="1" shape-rendering="crispEdges"/>
<rect x="279.83" y="395.52" width="8.09" height="66.20" fill="#F74A00" stroke="#FFFFFF" stroke-opacity="0.22" stroke-width="1" shape-rendering="crispEdges"/>
<rect x="279.83" y="461.72" width="8.09" height="66.20" fill="#E67C00" stroke="#FFFFFF" stroke-opacity="0.22" stroke-width="1" shape-rendering="crispEdges"/>
<rect x="279.83" y="64.52" width="8.09" height="66.20" fill="#E08800" stroke="#FFFFFF" stroke-opacity="0.22" stroke-width="1" shape-rendering="crispEdges"/>
<rect x="287.91" y="130.72" width="8.09" height="66.20" fill="#E77900" stroke="#FFFFFF" stroke-opacity="0.22" stroke-width="1" shape-rendering="crispEdges"/>
<rect x="287.91" y="196.92" width="8.09" height="66.20" fill="#EB7000" stroke="#FFFFFF" stroke-opacity="0.22" stroke-width="1" shape-rendering="crispEdges"/>
<rect x="287.91" y="263.12" width="8.09" height="66.20" fill="#F15F00" stroke="#FFFFFF" stroke-opacity="0.22" stroke-width="1" shape-rendering="crispEdges"/>
<rect x="287.91" y="329.32" width="8.09" height="66.20" fill="#F35700" stroke="#FFFFFF" stroke-opacity="0.22" stroke-width="1" shape-rendering="crispEdges"/>
<rect x="287.91" y="395.52" width="8.09" height="66.20" fill="#F45300" stroke="#FFFFFF" stroke-opacity="0.22" stroke-width="1" shape-rendering="crispEdges"/>
<rect x="287.91" y="461.72" width="8.09" height="66.20" fill="#DD8D00" stroke="#FFFFFF" stroke-opacity="0.22" stroke-width="1" shape-rendering="crispEdges"/>
<rect x="287.91" y="64.52" width="8.09" height="66.20" fill="#DD8D00" stroke="#FFFFFF" stroke-opacity="0.22" stroke-width="1" shape-rendering="crispEdges"/>
<rect x="296.00" y="130.72" width="8.09" height="66.20" fill="#E38200" stroke="#FFFFFF" stroke-opacity="0.22" stroke-width="1" shape-rendering="crispEdges"/>
<rect x="296.00" y="196.92" width="8.09" height="66.20" fill="#EB7000" stroke="#FFFFFF" stroke-opacity="0.22" stroke-width="1" shape-rendering="crispEdges"/>
<rect x="296.00" y="263.12" width="8.09" height="66.20" fill="#F06300" stroke="#FFFFFF" stroke-opacity="0.22" stroke-width="1" shape-rendering="crispEdges"/>
<rect x="296.00" y="329.32" width="8.09" height="66.20" fill="#F35700" stroke="#FFFFFF" stroke-opacity="0.22" stroke-width="1" shape-rendering="crispEdges"/>
<rect x="296.00" y="395.52" width="8.09" height="66.20" fill="#F06300" stroke="#FFFFFF" stroke-opacity="0.22" stroke-width="1" shape-rendering="crispEdges"/>
<rect x="296.00" y="461.72" width="8.09" height="66.20" fill="#E77900" stroke="#FFFFFF" stroke-opacity="0.22" stroke-width="1" shape-rendering="crispEdges"/>
<rect x="296.00" y="64.52" width="8.09" height="66.20" fill="#DE8A00" stroke="#FFFFFF" stroke-opacity="0.22" stroke-width="1" shape-rendering="crispEdges"/>
<rect x="304.09" y="130.72" width="8.09" height="66.20" fill="#E87600" stroke="#FFFFFF" stroke-opacity="0.22" stroke-width="1" shape-rendering="crispEdges"/>
<rect x="304.09" y="196.92" width="8.09" height="66.20" fill="#EA7300" stroke="#FFFFFF" stroke-opacity="0.22" stroke-width="1" shape-rendering="crispEdges"/>
<rect x="304.09" y="263.12" width="8.09" height="66.20" fill="#E67B00" stroke="#FFFFFF" stroke-opacity="0.22" stroke-width="1" shape-rendering="crispEdges"/>
<rect x="304.09" y="329.32" width="8.09" height="66.20" fill="#E67C00" stroke="#FFFFFF" stroke-opacity="0.22" stroke-width="1" shape-rendering="crispEdges"/>
<rect x="304.09" y="395.52" width="8.09" height="66.20" fill="#DA9200" stroke="#FFFFFF" stroke-opacity="0.22" stroke-width="1" shape-rendering="crispEdges"/>
<rect x="304.09" y="461.72" width="8.09" height="66.20" fill="#C1B400" stroke="#FFFFFF" stroke-opacity="0.22" stroke-width="1" shape-rendering="crispEdges"/>
<rect x="304.09" y="64.52" width="8.09" height="66.20" fill="#AACA00" stroke="#FFFFFF" stroke-opacity="0.22" stroke-width="1" shape-rendering="crispEdges"/>
<rect x="312.18" y="130.72" width="8.09" height="66.20" fill="#DA9200" stroke="#FFFFFF" stroke-opacity="0.22" stroke-width="1" shape-rendering="crispEdges"/>
<rect x="312.18" y="196.92" width="8.09" height="66.20" fill="#E38200" stroke="#FFFFFF" stroke-opacity="0.22" stroke-width="1" shape-rendering="crispEdges"/>
<rect x="312.18" y="263.12" width="8.09" height="66.20" fill="#ED6900" stroke="#FFFFFF" stroke-opacity="0.22" stroke-width="1" shape-rendering="crispEdges"/>
<rect x="312.18" y="329.32" width="8.09" height="66.20" fill="#EF6400" stroke="#FFFFFF" stroke-opacity="0.22" stroke-width="1" shape-rendering="crispEdges"/>
<line x1="283.87" y1="534.5400000000001" x2="283.87" y2="537.29" stroke="#333333" stroke-width="1.07"/>
<text transform="translate(283.87,546.90) scale(1,1.12)" font-size="8.8" font-family="Liberation Sans, sans-serif" fill="#4D4D4D" text-anchor="middle">1</text>
<line x1="291.96" y1="534.5400000000001" x2="291.96" y2="537.29" stroke="#333333" stroke-width="1.07"/>
<text transform="translate(291.96,546.90) scale(1,1.12)" font-size="8.8" font-family="Liberation Sans, sans-serif" fill="#4D4D4D" text-anchor="middle">2</text>
<line x1="300.05" y1="534.5400000000001" x2="300.05" y2="537.29" stroke="#333333" stroke-width="1.07"/>
<text transform="translate(300.05,546.90) scale(1,1.12)" font-size="8.8" font-family="Liberation Sans, sans-serif" fill="#4D4D4D" text-anchor="middle">3</text>
<line x1="308.13" y1="534.5400000000001" x2="308.13" y2="537.29" stroke="#333333" stroke-width="1.07"/>
<text transform="translate(308.13,546.90) scale(1,1.12)" font-size="8.8" font-family="Liberation Sans, sans-serif" fill="#4D4D4D" text-anchor="middle">4</text>
<line x1="316.22" y1="534.5400000000001" x2="316.22" y2="537.29" stroke="#333333" stroke-width="1.07"/>
<text transform="translate(316.22,546.90) scale(1,1.12)" font-size="8.8" font-family="Liberation Sans, sans-serif" fill="#4D4D4D" text-anchor="middle">5</text>
<line x1="324.31" y1="534.5400000000001" x2="324.31" y2="537.29" stroke="#333333" stroke-width="1.07"/>
<text transform="translate(324.31,546.90) scale(1,1.12)" font-size="8.8" font-family="Liberation Sans, sans-serif" fill="#4D4D4D" text-anchor="middle">6</text>
<rect x="336.25" y="37.2" width="53.38" height="20.70" fill="#D9D9D9" shape-rendering="crispEdges"/>
<text transform="translate(362.94,50.70) scale(1,1.1)" font-size="8.8" font-family="Liberation Sans, sans-serif" fill="#1A1A1A" text-anchor="middle">Jun</text>
<rect x="336.25" y="57.9" width="53.38" height="476.64" fill="#EBEBEB" shape-rendering="crispEdges"/>
<line x1="338.68" y1="57.9" x2="338.68" y2="534.5400000000001" stroke="#FFFFFF" stroke-width="0.53"/>
<line x1="346.76" y1="57.9" x2="346.76" y2="534.5400000000001" stroke="#FFFFFF" stroke-width="0.53"/>
<line x1="354.85" y1="57.9" x2="354.85" y2="534.5400000000001" stroke="#FFFFFF" stroke-width="0.53"/>
<line x1="362.94" y1="57.9" x2="362.94" y2="534.5400000000001" stroke="#FFFFFF" stroke-width="0.53"/>
<line x1="371.03" y1="57.9" x2="371.03" y2="534.5400000000001" stroke="#FFFFFF" stroke-width="0.53"/>
<line x1="379.12" y1="57.9" x2="379.12" y2="534.5400000000001" stroke="#FFFFFF" stroke-width="0.53"/>
<line x1="387.20" y1="57.9" x2="387.20" y2="534.5400000000001" stroke="#FFFFFF" stroke-width="0.53"/>
<line x1="342.72" y1="57.9" x2="342.72" y2="534.5400000000001" stroke="#FFFFFF" stroke-width="1.07"/>
<line x1="350.81" y1="57.9" x2="350.81" y2="534.5400000000001" stroke="#FFFFFF" stroke-width="1.07"/>
<line x1="358.90" y1="57.9" x2="358.90" y2="534.5400000000001" stroke="#FFFFFF" stroke-width="1.07"/>
<line x1="366.98" y1="57.9" x2="366.98" y2="534.5400000000001" stroke="#FFFFFF" stroke-width="1.07"/>
<line x1="375.07" y1="57.9" x2="375.07" y2="534.5400000000001" stroke="#FFFFFF" stroke-width="1.07"/>
<line x1="383.16" y1="57.9" x2="383.16" y2="534.5400000000001" stroke="#FFFFFF" stroke-width="1.07"/>
<line x1="336.25" y1="97.62" x2="389.63" y2="97.62" stroke="#FFFFFF" stroke-width="1.07"/>
<line x1="336.25" y1="163.82" x2="389.63" y2="163.82" stroke="#FFFFFF" stroke-width="1.07"/>
<line x1="336.25" y1="230.02" x2="389.63" y2="230.02" stroke="#FFFFFF" stroke-width="1.07"/>
<line x1="336.25" y1="296.22" x2="389.63" y2="296.22" stroke="#FFFFFF" stroke-width="1.07"/>
<line x1="336.25" y1="362.42" x2="389.63" y2="362.42" stroke="#FFFFFF" stroke-width="1.07"/>
<line x1="336.25" y1="428.62" x2="389.63" y2="428.62" stroke="#FFFFFF" stroke-width="1.07"/>
<line x1="336.25" y1="494.82" x2="389.63" y2="494.82" stroke="#FFFFFF" stroke-width="1.07"/>
<rect x="338.68" y="395.52" width="8.09" height="66.20" fill="#F25B00" stroke="#FFFFFF" stroke-opacity="0.22" stroke-width="1" shape-rendering="crispEdges"/>
<rect x="338.68" y="461.72" width="8.09" height="66.20" fill="#E08800" stroke="#FFFFFF" stroke-opacity="0.22" stroke-width="1" shape-rendering="crispEdges"/>
<rect x="338.68" y="64.52" width="8.09" height="66.20" fill="#DD8D00" stroke="#FFFFFF" stroke-opacity="0.22" stroke-width="1" shape-rendering="crispEdges"/>
<rect x="346.76" y="130.72" width="8.09" height="66.20" fill="#E47F00" stroke="#FFFFFF" stroke-opacity="0.22" stroke-width="1" shape-rendering="crispEdges"/>
<rect x="346.76" y="196.92" width="8.09" height="66.20" fill="#EA7300" stroke="#FFFFFF" stroke-opacity="0.22" stroke-width="1" shape-rendering="crispEdges"/>
<rect x="346.76" y="263.12" width="8.09" height="66.20" fill="#EF6600" stroke="#FFFFFF" stroke-opacity="0.22" stroke-width="1" shape-rendering="crispEdges"/>
<rect x="346.76" y="329.32" width="8.09" height="66.20" fill="#F15F00" stroke="#FFFFFF" stroke-opacity="0.22" stroke-width="1" shape-rendering="crispEdges"/>
<rect x="346.76" y="395.52" width="8.09" height="66.20" fill="#E87600" stroke="#FFFFFF" stroke-opacity="0.22" stroke-width="1" shape-rendering="crispEdges"/>
<rect x="346.76" y="461.72" width="8.09" height="66.20" fill="#DD8D00" stroke="#FFFFFF" stroke-opacity="0.22" stroke-width="1" shape-rendering="crispEdges"/>
<rect x="346.76" y="64.52" width="8.09" height="66.20" fill="#DD8D00" stroke="#FFFFFF" stroke-opacity="0.22" stroke-width="1" shape-rendering="crispEdges"/>
<rect x="354.85" y="130.72" width="8.09" height="66.20" fill="#E47F00" stroke="#FFFFFF" stroke-opacity="0.22" stroke-width="1" shape-rendering="crispEdges"/>
<rect x="354.85" y="196.92" width="8.09" height="66.20" fill="#E77900" stroke="#FFFFFF" stroke-opacity="0.22" stroke-width="1" shape-rendering="crispEdges"/>
<rect x="354.85" y="263.12" width="8.09" height="66.20" fill="#F06300" stroke="#FFFFFF" stroke-opacity="0.22" stroke-width="1" shape-rendering="crispEdges"/>
<rect x="354.85" y="329.32" width="8.09" height="66.20" fill="#EC6E00" stroke="#FFFFFF" stroke-opacity="0.22" stroke-width="1" shape-rendering="crispEdges"/>
<rect x="354.85" y="395.52" width="8.09" height="66.20" fill="#EA7300" stroke="#FFFFFF" stroke-opacity="0.22" stroke-width="1" shape-rendering="crispEdges"/>
<rect x="354.85" y="461.72" width="8.09" height="66.20" fill="#D59A00" stroke="#FFFFFF" stroke-opacity="0.22" stroke-width="1" shape-rendering="crispEdges"/>
<rect x="354.85" y="64.52" width="8.09" height="66.20" fill="#D59A00" stroke="#FFFFFF" stroke-opacity="0.22" stroke-width="1" shape-rendering="crispEdges"/>
<rect x="362.94" y="130.72" width="8.09" height="66.20" fill="#E38200" stroke="#FFFFFF" stroke-opacity="0.22" stroke-width="1" shape-rendering="crispEdges"/>
<rect x="362.94" y="196.92" width="8.09" height="66.20" fill="#E67C00" stroke="#FFFFFF" stroke-opacity="0.22" stroke-width="1" shape-rendering="crispEdges"/>
<rect x="362.94" y="263.12" width="8.09" height="66.20" fill="#EC6D00" stroke="#FFFFFF" stroke-opacity="0.22" stroke-width="1" shape-rendering="crispEdges"/>
<rect x="362.94" y="329.32" width="8.09" height="66.20" fill="#EC6E00" stroke="#FFFFFF" stroke-opacity="0.22" stroke-width="1" shape-rendering="crispEdges"/>
<rect x="362.94" y="395.52" width="8.09" height="66.20" fill="#E67C00" stroke="#FFFFFF" stroke-opacity="0.22" stroke-width="1" shape-rendering="crispEdges"/>
<rect x="362.94" y="461.72" width="8.09" height="66.20" fill="#D59A00" stroke="#FFFFFF" stroke-opacity="0.22" stroke-width="1" shape-rendering="crispEdges"/>
<rect x="362.94" y="64.52" width="8.09" height="66.20" fill="#DB9000" stroke="#FFFFFF" stroke-opacity="0.22" stroke-width="1" shape-rendering="crispEdges"/>
<rect x="371.03" y="130.72" width="8.09" height="66.20" fill="#E18500" stroke="#FFFFFF" stroke-opacity="0.22" stroke-width="1" shape-rendering="crispEdges"/>
<rect x="371.03" y="196.92" width="8.09" height="66.20" fill="#E77900" stroke="#FFFFFF" stroke-opacity="0.22" stroke-width="1" shape-rendering="crispEdges"/>
<rect x="371.03" y="263.12" width="8.09" height="66.20" fill="#EC6D00" stroke="#FFFFFF" stroke-opacity="0.22" stroke-width="1" shape-rendering="crispEdges"/>
<rect x="371.03" y="329.32" width="8.09" height="66.20" fill="#ED6B00" stroke="#FFFFFF" stroke-opacity="0.22" stroke-width="1" shape-rendering="crispEdges"/>
<rect x="371.03" y="395.52" width="8.09" height="66.20" fill="#EA7300" stroke="#FFFFFF" stroke-opacity="0.22" stroke-width="1" shape-rendering="crispEdges"/>
<rect x="371.03" y="461.72" width="8.09" height="66.20" fill="#DA9200" stroke="#FFFFFF" stroke-opacity="0.22" stroke-width="1" shape-rendering="crispEdges"/>
<line x1="342.72" y1="534.5400000000001" x2="342.72" y2="537.29" stroke="#333333" stroke-width="1.07"/>
<text transform="translate(342.72,546.90) scale(1,1.12)" font-size="8.8" font-family="Liberation Sans, sans-serif" fill="#4D4D4D" text-anchor="middle">1</text>
<line x1="350.81" y1="534.5400000000001" x2="350.81" y2="537.29" stroke="#333333" stroke-width="1.07"/>
<text transform="translate(350.81,546.90) scale(1,1.12)" font-size="8.8" font-family="Liberation Sans, sans-serif" fill="#4D4D4D" text-anchor="middle">2</text>
<line x1="358.90" y1="534.5400000000001" x2="358.90" y2="537.29" stroke="#333333" stroke-width="1.07"/>
<text transform="translate(358.90,546.90) scale(1,1.12)" font-size="8.8" font-family="Liberation Sans, sans-serif" fill="#4D4D4D" text-anchor="middle">3</text>
<line x1="366.98" y1="534.5400000000001" x2="366.98" y2="537.29" stroke="#333333" stroke-width="1.07"/>
<text transform="translate(366.98,546.90) scale(1,1.12)" font-size="8.8" font-family="Liberation Sans, sans-serif" fill="#4D4D4D" text-anchor="middle">4</text>
<line x1="375.07" y1="534.5400000000001" x2="375.07" y2="537.29" stroke="#333333" stroke-width="1.07"/>
<text transform="translate(375.07,546.90) scale(1,1.12)" font-size="8.8" font-family="Liberation Sans, sans-serif" fill="#4D4D4D" text-anchor="middle">5</text>
<line x1="383.16" y1="534.5400000000001" x2="383.16" y2="537.29" stroke="#333333" stroke-width="1.07"/>
<text transform="translate(383.16,546.90) scale(1,1.12)" font-size="8.8" font-family="Liberation Sans, sans-serif" fill="#4D4D4D" text-anchor="middle">6</text>
<rect x="395.10" y="37.2" width="53.38" height="20.70" fill="#D9D9D9" shape-rendering="crispEdges"/>
<text transform="translate(421.79,50.70) scale(1,1.1)" font-size="8.8" font-family="Liberation Sans, sans-serif" fill="#1A1A1A" text-anchor="middle">Jul</text>
<rect x="395.10" y="57.9" width="53.38" height="476.64" fill="#EBEBEB" shape-rendering="crispEdges"/>
<line x1="397.53" y1="57.9" x2="397.53" y2="534.5400000000001" stroke="#FFFFFF" stroke-width="0.53"/>
<line x1="405.61" y1="57.9" x2="405.61" y2="534.5400000000001" stroke="#FFFFFF" stroke-width="0.53"/>
<line x1="413.70" y1="57.9" x2="413.70" y2="534.5400000000001" stroke="#FFFFFF" stroke-width="0.53"/>
<line x1="421.79" y1="57.9" x2="421.79" y2="534.5400000000001" stroke="#FFFFFF" stroke-width="0.53"/>
<line x1="429.88" y1="57.9" x2="429.88" y2="534.5400000000001" stroke="#FFFFFF" stroke-width="0.53"/>
<line x1="437.97" y1="57.9" x2="437.97" y2="534.5400000000001" stroke="#FFFFFF" stroke-width="0.53"/>
<line x1="446.05" y1="57.9" x2="446.05" y2="534.5400000000001" stroke="#FFFFFF" stroke-width="0.53"/>
<line x1="401.57" y1="57.9" x2="401.57" y2="534.5400000000001" stroke="#FFFFFF" stroke-width="1.07"/>
<line x1="409.66" y1="57.9" x2="409.66" y2="534.5400000000001" stroke="#FFFFFF" stroke-width="1.07"/>
<line x1="417.75" y1="57.9" x2="417.75" y2="534.5400000000001" stroke="#FFFFFF" stroke-width="1.07"/>
<line x1="425.83" y1="57.9" x2="425.83" y2="534.5400000000001" stroke="#FFFFFF" stroke-width="1.07"/>
<line x1="433.92" y1="57.9" x2="433.92" y2="534.5400000000001" stroke="#FFFFFF" stroke-width="1.07"/>
<line x1="442.01" y1="57.9" x2="442.01" y2="534.5400000000001" stroke="#FFFFFF" stroke-width="1.07"/>
<line x1="395.10" y1="97.62" x2="448.48" y2="97.62" stroke="#FFFFFF" stroke-width="1.07"/>
<line x1="395.10" y1="163.82" x2="448.48" y2="163.82" stroke="#FFFFFF" stroke-width="1.07"/>
<line x1="395.10" y1="230.02" x2="448.48" y2="230.02" stroke="#FFFFFF" stroke-width="1.07"/>
<line x1="395.10" y1="296.22" x2="448.48" y2="296.22" stroke="#FFFFFF" stroke-width="1.07"/>
<line x1="395.10" y1="362.42" x2="448.48" y2="362.42" stroke="#FFFFFF" stroke-width="1.07"/>
<line x1="395.10" y1="428.62" x2="448.48" y2="428.62" stroke="#FFFFFF" stroke-width="1.07"/>
<line x1="395.10" y1="494.82" x2="448.48" y2="494.82" stroke="#FFFFFF" stroke-width="1.07"/>
<rect x="397.53" y="64.52" width="8.09" height="66.20" fill="#D29F00" stroke="#FFFFFF" stroke-opacity="0.22" stroke-width="1" shape-rendering="crispEdges"/>
<rect x="405.61" y="130.72" width="8.09" height="66.20" fill="#DB9000" stroke="#FFFFFF" stroke-opacity="0.22" stroke-width="1" shape-rendering="crispEdges"/>
<rect x="405.61" y="196.92" width="8.09" height="66.20" fill="#DA9200" stroke="#FFFFFF" stroke-opacity="0.22" stroke-width="1" shape-rendering="crispEdges"/>
<rect x="405.61" y="263.12" width="8.09" height="66.20" fill="#A7CC00" stroke="#FFFFFF" stroke-opacity="0.22" stroke-width="1" shape-rendering="crispEdges"/>
<rect x="405.61" y="329.32" width="8.09" height="66.20" fill="#BDB800" stroke="#FFFFFF" stroke-opacity="0.22" stroke-width="1" shape-rendering="crispEdges"/>
<rect x="405.61" y="395.52" width="8.09" height="66.20" fill="#BDB800" stroke="#FFFFFF" stroke-opacity="0.22" stroke-width="1" shape-rendering="crispEdges"/>
<rect x="405.61" y="461.72" width="8.09" height="66.20" fill="#BFB600" stroke="#FFFFFF" stroke-opacity="0.22" stroke-width="1" shape-rendering="crispEdges"/>
<rect x="405.61" y="64.52" width="8.09" height="66.20" fill="#D0A100" stroke="#FFFFFF" stroke-opacity="0.22" stroke-width="1" shape-rendering="crispEdges"/>
<rect x="413.70" y="130.72" width="8.09" height="66.20" fill="#DD8D00" stroke="#FFFFFF" stroke-opacity="0.22" stroke-width="1" shape-rendering="crispEdges"/>
<rect x="413.70" y="196.92" width="8.09" height="66.20" fill="#E38200" stroke="#FFFFFF" stroke-opacity="0.22" stroke-width="1" shape-rendering="crispEdges"/>
<rect x="413.70" y="263.12" width="8.09" height="66.20" fill="#E87600" stroke="#FFFFFF" stroke-opacity="0.22" stroke-width="1" shape-rendering="crispEdges"/>
<rect x="413.70" y="329.32" width="8.09" height="66.20" fill="#EB7000" stroke="#FFFFFF" stroke-opacity="0.22" stroke-width="1" shape-rendering="crispEdges"/>
<rect x="413.70" y="395.52" width="8.09" height="66.20" fill="#E38200" stroke="#FFFFFF" stroke-opacity="0.22" stroke-width="1" shape-rendering="crispEdges"/>
<rect x="413.70" y="461.72" width="8.09" height="66.20" fill="#D59A00" stroke="#FFFFFF" stroke-opacity="0.22" stroke-width="1" shape-rendering="crispEdges"/>
<rect x="413.70" y="64.52" width="8.09" height="66.20" fill="#DA9200" stroke="#FFFFFF" stroke-opacity="0.22" stroke-width="1" shape-rendering="crispEdges"/>
<rect x="421.79" y="130.72" width="8.09" height="66.20" fill="#E38200" stroke="#FFFFFF" stroke-opacity="0.22" stroke-width="1" shape-rendering="crispEdges"/>
<rect x="421.79" y="196.92" width="8.09" height="66.20" fill="#E87600" stroke="#FFFFFF" stroke-opacity="0.22" stroke-width="1" shape-rendering="crispEdges"/>
<rect x="421.79" y="263.12" width="8.09" height="66.20" fill="#ED6900" stroke="#FFFFFF" stroke-opacity="0.22" stroke-width="1" shape-rendering="crispEdges"/>
<rect x="421.79" y="329.32" width="8.09" height="66.20" fill="#EF6600" stroke="#FFFFFF" stroke-opacity="0.22" stroke-width="1" shape-rendering="crispEdges"/>
<rect x="421.79" y="395.52" width="8.09" height="66.20" fill="#E08800" stroke="#FFFFFF" stroke-opacity="0.22" stroke-width="1" shape-rendering="crispEdges"/>
<rect x="421.79" y="461.72" width="8.09" height="66.20" fill="#D79700" stroke="#FFFFFF" stroke-opacity="0.22" stroke-width="1" shape-rendering="crispEdges"/>
<rect x="421.79" y="64.52" width="8.09" height="66.20" fill="#D79700" stroke="#FFFFFF" stroke-opacity="0.22" stroke-width="1" shape-rendering="crispEdges"/>
<rect x="429.88" y="130.72" width="8.09" height="66.20" fill="#E08800" stroke="#FFFFFF" stroke-opacity="0.22" stroke-width="1" shape-rendering="crispEdges"/>
<rect x="429.88" y="196.92" width="8.09" height="66.20" fill="#E47F00" stroke="#FFFFFF" stroke-opacity="0.22" stroke-width="1" shape-rendering="crispEdges"/>
<rect x="429.88" y="263.12" width="8.09" height="66.20" fill="#E67C00" stroke="#FFFFFF" stroke-opacity="0.22" stroke-width="1" shape-rendering="crispEdges"/>
<rect x="429.88" y="329.32" width="8.09" height="66.20" fill="#E38200" stroke="#FFFFFF" stroke-opacity="0.22" stroke-width="1" shape-rendering="crispEdges"/>
<rect x="429.88" y="395.52" width="8.09" height="66.20" fill="#DE8A00" stroke="#FFFFFF" stroke-opacity="0.22" stroke-width="1" shape-rendering="crispEdges"/>
<rect x="429.88" y="461.72" width="8.09" height="66.20" fill="#D39C00" stroke="#FFFFFF" stroke-opacity="0.22" stroke-width="1" shape-rendering="crispEdges"/>
<rect x="429.88" y="64.52" width="8.09" height="66.20" fill="#D0A100" stroke="#FFFFFF" stroke-opacity="0.22" stroke-width="1" shape-rendering="crispEdges"/>
<rect x="437.97" y="130.72" width="8.09" height="66.20" fill="#DA9200" stroke="#FFFFFF" stroke-opacity="0.22" stroke-width="1" shape-rendering="crispEdges"/>
<rect x="437.97" y="196.92" width="8.09" height="66.20" fill="#E08800" stroke="#FFFFFF" stroke-opacity="0.22" stroke-width="1" shape-rendering="crispEdges"/>
<line x1="401.57" y1="534.5400000000001" x2="401.57" y2="537.29" stroke="#333333" stroke-width="1.07"/>
<text transform="translate(401.57,546.90) scale(1,1.12)" font-size="8.8" font-family="Liberation Sans, sans-serif" fill="#4D4D4D" text-anchor="middle">1</text>
<line x1="409.66" y1="534.5400000000001" x2="409.66" y2="537.29" stroke="#333333" stroke-width="1.07"/>
<text transform="translate(409.66,546.90) scale(1,1.12)" font-size="8.8" font-family="Liberation Sans, sans-serif" fill="#4D4D4D" text-anchor="middle">2</text>
<line x1="417.75" y1="534.5400000000001" x2="417.75" y2="537.29" stroke="#333333" stroke-width="1.07"/>
<text transform="translate(417.75,546.90) scale(1,1.12)" font-size="8.8" font-family="Liberation Sans, sans-serif" fill="#4D4D4D" text-anchor="middle">3</text>
<line x1="425.83" y1="534.5400000000001" x2="425.83" y2="537.29" stroke="#333333" stroke-width="1.07"/>
<text transform="translate(425.83,546.90) scale(1,1.12)" font-size="8.8" font-family="Liberation Sans, sans-serif" fill="#4D4D4D" text-anchor="middle">4</text>
<line x1="433.92" y1="534.5400000000001" x2="433.92" y2="537.29" stroke="#333333" stroke-width="1.07"/>
<text transform="translate(433.92,546.90) scale(1,1.12)" font-size="8.8" font-family="Liberation Sans, sans-serif" fill="#4D4D4D" text-anchor="middle">5</text>
<line x1="442.01" y1="534.5400000000001" x2="442.01" y2="537.29" stroke="#333333" stroke-width="1.07"/>
<text transform="translate(442.01,546.90) scale(1,1.12)" font-size="8.8" font-family="Liberation Sans, sans-serif" fill="#4D4D4D" text-anchor="middle">6</text>
<rect x="453.95" y="37.2" width="53.38" height="20.70" fill="#D9D9D9" shape-rendering="crispEdges"/>
<text transform="translate(480.64,50.70) scale(1,1.1)" font-size="8.8" font-family="Liberation Sans, sans-serif" fill="#1A1A1A" text-anchor="middle">Aug</text>
<rect x="453.95" y="57.9" width="53.38" height="476.64" fill="#EBEBEB" shape-rendering="crispEdges"/>
<line x1="456.38" y1="57.9" x2="456.38" y2="534.5400000000001" stroke="#FFFFFF" stroke-width="0.53"/>
<line x1="464.46" y1="57.9" x2="464.46" y2="534.5400000000001" stroke="#FFFFFF" stroke-width="0.53"/>
<line x1="472.55" y1="57.9" x2="472.55" y2="534.5400000000001" stroke="#FFFFFF" stroke-width="0.53"/>
<line x1="480.64" y1="57.9" x2="480.64" y2="534.5400000000001" stroke="#FFFFFF" stroke-width="0.53"/>
<line x1="488.73" y1="57.9" x2="488.73" y2="534.5400000000001" stroke="#FFFFFF" stroke-width="0.53"/>
<line x1="496.82" y1="57.9" x2="496.82" y2="534.5400000000001" stroke="#FFFFFF" stroke-width="0.53"/>
<line x1="504.90" y1="57.9" x2="504.90" y2="534.5400000000001" stroke="#FFFFFF" stroke-width="0.53"/>
<line x1="460.42" y1="57.9" x2="460.42" y2="534.5400000000001" stroke="#FFFFFF" stroke-width="1.07"/>
<line x1="468.51" y1="57.9" x2="468.51" y2="534.5400000000001" stroke="#FFFFFF" stroke-width="1.07"/>
<line x1="476.60" y1="57.9" x2="476.60" y2="534.5400000000001" stroke="#FFFFFF" stroke-width="1.07"/>
<line x1="484.68" y1="57.9" x2="484.68" y2="534.5400000000001" stroke="#FFFFFF" stroke-width="1.07"/>
<line x1="492.77" y1="57.9" x2="492.77" y2="534.5400000000001" stroke="#FFFFFF" stroke-width="1.07"/>
<line x1="500.86" y1="57.9" x2="500.86" y2="534.5400000000001" stroke="#FFFFFF" stroke-width="1.07"/>
<line x1="453.95" y1="97.62" x2="507.33" y2="97.62" stroke="#FFFFFF" stroke-width="1.07"/>
<line x1="453.95" y1="163.82" x2="507.33" y2="163.82" stroke="#FFFFFF" stroke-width="1.07"/>
<line x1="453.95" y1="230.02" x2="507.33" y2="230.02" stroke="#FFFFFF" stroke-width="1.07"/>
<line x1="453.95" y1="296.22" x2="507.33" y2="296.22" stroke="#FFFFFF" stroke-width="1.07"/>
<line x1="453.95" y1="362.42" x2="507.33" y2="362.42" stroke="#FFFFFF" stroke-width="1.07"/>
<line x1="453.95" y1="428.62" x2="507.33" y2="428.62" stroke="#FFFFFF" stroke-width="1.07"/>
<line x1="453.95" y1="494.82" x2="507.33" y2="494.82" stroke="#FFFFFF" stroke-width="1.07"/>
<rect x="456.38" y="263.12" width="8.09" height="66.20" fill="#A1D000" stroke="#FFFFFF" stroke-opacity="0.22" stroke-width="1" shape-rendering="crispEdges"/>
<rect x="456.38" y="329.32" width="8.09" height="66.20" fill="#6CED00" stroke="#FFFFFF" stroke-opacity="0.22" stroke-width="1" shape-rendering="crispEdges"/>
<rect x="456.38" y="395.52" width="8.09" height="66.20" fill="#60F100" stroke="#FFFFFF" stroke-opacity="0.22" stroke-width="1" shape-rendering="crispEdges"/>
<rect x="456.38" y="461.72" width="8.09" height="66.20" fill="#41F900" stroke="#FFFFFF" stroke-opacity="0.22" stroke-width="1" shape-rendering="crispEdges"/>
<rect x="456.38" y="64.52" width="8.09" height="66.20" fill="#CEA400" stroke="#FFFFFF" stroke-opacity="0.22" stroke-width="1" shape-rendering="crispEdges"/>
<rect x="464.46" y="130.72" width="8.09" height="66.20" fill="#DC8E00" stroke="#FFFFFF" stroke-opacity="0.22" stroke-width="1" shape-rendering="crispEdges"/>
<rect x="464.46" y="196.92" width="8.09" height="66.20" fill="#DE8A00" stroke="#FFFFFF" stroke-opacity="0.22" stroke-width="1" shape-rendering="crispEdges"/>
<rect x="464.46" y="263.12" width="8.09" height="66.20" fill="#D69800" stroke="#FFFFFF" stroke-opacity="0.22" stroke-width="1" shape-rendering="crispEdges"/>
<rect x="464.46" y="329.32" width="8.09" height="66.20" fill="#E67C00" stroke="#FFFFFF" stroke-opacity="0.22" stroke-width="1" shape-rendering="crispEdges"/>
<rect x="464.46" y="395.52" width="8.09" height="66.20" fill="#DB9000" stroke="#FFFFFF" stroke-opacity="0.22" stroke-width="1" shape-rendering="crispEdges"/>
<rect x="464.46" y="461.72" width="8.09" height="66.20" fill="#0BFF00" stroke="#FFFFFF" stroke-opacity="0.22" stroke-width="1" shape-rendering="crispEdges"/>
<rect x="464.46" y="64.52" width="8.09" height="66.20" fill="#CBA800" stroke="#FFFFFF" stroke-opacity="0.22" stroke-width="1" shape-rendering="crispEdges"/>
<rect x="472.55" y="130.72" width="8.09" height="66.20" fill="#DC8E00" stroke="#FFFFFF" stroke-opacity="0.22" stroke-width="1" shape-rendering="crispEdges"/>
<rect x="472.55" y="196.92" width="8.09" height="66.20" fill="#DE8A00" stroke="#FFFFFF" stroke-opacity="0.22" stroke-width="1" shape-rendering="crispEdges"/>
<rect x="472.55" y="263.12" width="8.09" height="66.20" fill="#E08800" stroke="#FFFFFF" stroke-opacity="0.22" stroke-width="1" shape-rendering="crispEdges"/>
<rect x="472.55" y="329.32" width="8.09" height="66.20" fill="#DB9000" stroke="#FFFFFF" stroke-opacity="0.22" stroke-width="1" shape-rendering="crispEdges"/>
<rect x="472.55" y="395.52" width="8.09" height="66.20" fill="#DA9200" stroke="#FFFFFF" stroke-opacity="0.22" stroke-width="1" shape-rendering="crispEdges"/>
<rect x="472.55" y="461.72" width="8.09" height="66.20" fill="#C5AF00" stroke="#FFFFFF" stroke-opacity="0.22" stroke-width="1" shape-rendering="crispEdges"/>
<rect x="472.55" y="64.52" width="8.09" height="66.20" fill="#CBA800" stroke="#FFFFFF" stroke-opacity="0.22" stroke-width="1" shape-rendering="crispEdges"/>
<rect x="480.64" y="130.72" width="8.09" height="66.20" fill="#DB9100" stroke="#FFFFFF" stroke-opacity="0.22" stroke-width="1" shape-rendering="crispEdges"/>
<rect x="480.64" y="196.92" width="8.09" height="66.20" fill="#DB9000" stroke="#FFFFFF" stroke-opacity="0.22" stroke-width="1" shape-rendering="crispEdges"/>
<rect x="480.64" y="263.12" width="8.09" height="66.20" fill="#DE8A00" stroke="#FFFFFF" stroke-opacity="0.22" stroke-width="1" shape-rendering="crispEdges"/>
<rect x="480.64" y="329.32" width="8.09" height="66.20" fill="#E18500" stroke="#FFFFFF" stroke-opacity="0.22" stroke-width="1" shape-rendering="crispEdges"/>
<rect x="480.64" y="395.52" width="8.09" height="66.20" fill="#DA9200" stroke="#FFFFFF" stroke-opacity="0.22" stroke-width="1" shape-rendering="crispEdges"/>
<rect x="480.64" y="461.72" width="8.09" height="66.20" fill="#CCA600" stroke="#FFFFFF" stroke-opacity="0.22" stroke-width="1" shape-rendering="crispEdges"/>
<rect x="480.64" y="64.52" width="8.09" height="66.20" fill="#C7AD00" stroke="#FFFFFF" stroke-opacity="0.22" stroke-width="1" shape-rendering="crispEdges"/>
<rect x="488.73" y="130.72" width="8.09" height="66.20" fill="#D89600" stroke="#FFFFFF" stroke-opacity="0.22" stroke-width="1" shape-rendering="crispEdges"/>
<rect x="488.73" y="196.92" width="8.09" height="66.20" fill="#DB9000" stroke="#FFFFFF" stroke-opacity="0.22" stroke-width="1" shape-rendering="crispEdges"/>
<rect x="488.73" y="263.12" width="8.09" height="66.20" fill="#DD8D00" stroke="#FFFFFF" stroke-opacity="0.22" stroke-width="1" shape-rendering="crispEdges"/>
<rect x="488.73" y="329.32" width="8.09" height="66.20" fill="#DD8D00" stroke="#FFFFFF" stroke-opacity="0.22" stroke-width="1" shape-rendering="crispEdges"/>
<rect x="488.73" y="395.52" width="8.09" height="66.20" fill="#DA9200" stroke="#FFFFFF" stroke-opacity="0.22" stroke-width="1" shape-rendering="crispEdges"/>
<line x1="460.42" y1="534.5400000000001" x2="460.42" y2="537.29" stroke="#333333" stroke-width="1.07"/>
<text transform="translate(460.42,546.90) scale(1,1.12)" font-size="8.8" font-family="Liberation Sans, sans-serif" fill="#4D4D4D" text-anchor="middle">1</text>
<line x1="468.51" y1="534.5400000000001" x2="468.51" y2="537.29" stroke="#333333" stroke-width="1.07"/>
<text transform="translate(468.51,546.90) scale(1,1.12)" font-size="8.8" font-family="Liberation Sans, sans-serif" fill="#4D4D4D" text-anchor="middle">2</text>
<line x1="476.60" y1="534.5400000000001" x2="476.60" y2="537.29" stroke="#333333" stroke-width="1.07"/>
<text transform="translate(476.60,546.90) scale(1,1.12)" font-size="8.8" font-family="Liberation Sans, sans-serif" fill="#4D4D4D" text-anchor="middle">3</text>
<line x1="484.68" y1="534.5400000000001" x2="484.68" y2="537.29" stroke="#333333" stroke-width="1.07"/>
<text transform="translate(484.68,546.90) scale(1,1.12)" font-size="8.8" font-family="Liberation Sans, sans-serif" fill="#4D4D4D" text-anchor="middle">4</text>
<line x1="492.77" y1="534.5400000000001" x2="492.77" y2="537.29" stroke="#333333" stroke-width="1.07"/>
<text transform="translate(492.77,546.90) scale(1,1.12)" font-size="8.8" font-family="Liberation Sans, sans-serif" fill="#4D4D4D" text-anchor="middle">5</text>
<line x1="500.86" y1="534.5400000000001" x2="500.86" y2="537.29" stroke="#333333" stroke-width="1.07"/>
<text transform="translate(500.86,546.90) scale(1,1.12)" font-size="8.8" font-family="Liberation Sans, sans-serif" fill="#4D4D4D" text-anchor="middle">6</text>
<rect x="512.80" y="37.2" width="53.38" height="20.70" fill="#D9D9D9" shape-rendering="crispEdges"/>
<text transform="translate(539.49,50.70) scale(1,1.1)" font-size="8.8" font-family="Liberation Sans, sans-serif" fill="#1A1A1A" text-anchor="middle">Sep</text>
<rect x="512.80" y="57.9" width="53.38" height="476.64" fill="#EBEBEB" shape-rendering="crispEdges"/>
<line x1="515.23" y1="57.9" x2="515.23" y2="534.5400000000001" stroke="#FFFFFF" stroke-width="0.53"/>
<line x1="523.31" y1="57.9" x2="523.31" y2="534.5400000000001" stroke="#FFFFFF" stroke-width="0.53"/>
<line x1="531.40" y1="57.9" x2="531.40" y2="534.5400000000001" stroke="#FFFFFF" stroke-width="0.53"/>
<line x1="539.49" y1="57.9" x2="539.49" y2="534.5400000000001" stroke="#FFFFFF" stroke-width="0.53"/>
<line x1="547.58" y1="57.9" x2="547.58" y2="534.5400000000001" stroke="#FFFFFF" stroke-width="0.53"/>
<line x1="555.67" y1="57.9" x2="555.67" y2="534.5400000000001" stroke="#FFFFFF" stroke-width="0.53"/>
<line x1="563.75" y1="57.9" x2="563.75" y2="534.5400000000001" stroke="#FFFFFF" stroke-width="0.53"/>
<line x1="519.27" y1="57.9" x2="519.27" y2="534.5400000000001" stroke="#FFFFFF" stroke-width="1.07"/>
<line x1="527.36" y1="57.9" x2="527.36" y2="534.5400000000001" stroke="#FFFFFF" stroke-width="1.07"/>
<line x1="535.45" y1="57.9" x2="535.45" y2="534.5400000000001" stroke="#FFFFFF" stroke-width="1.07"/>
<line x1="543.53" y1="57.9" x2="543.53" y2="534.5400000000001" stroke="#FFFFFF" stroke-width="1.07"/>
<line x1="551.62" y1="57.9" x2="551.62" y2="534.5400000000001" stroke="#FFFFFF" stroke-width="1.07"/>
<line x1="559.71" y1="57.9" x2="559.71" y2="534.5400000000001" stroke="#FFFFFF" stroke-width="1.07"/>
<line x1="512.80" y1="97.62" x2="566.18" y2="97.62" stroke="#FFFFFF" stroke-width="1.07"/>
<line x1="512.80" y1="163.82" x2="566.18" y2="163.82" stroke="#FFFFFF" stroke-width="1.07"/>
<line x1="512.80" y1="230.02" x2="566.18" y2="230.02" stroke="#FFFFFF" stroke-width="1.07"/>
<line x1="512.80" y1="296.22" x2="566.18" y2="296.22" stroke="#FFFFFF" stroke-width="1.07"/>
<line x1="512.80" y1="362.42" x2="566.18" y2="362.42" stroke="#FFFFFF" stroke-width="1.07"/>
<line x1="512.80" y1="428.62" x2="566.18" y2="428.62" stroke="#FFFFFF" stroke-width="1.07"/>
<line x1="512.80" y1="494.82" x2="566.18" y2="494.82" stroke="#FFFFFF" stroke-width="1.07"/>
<rect x="515.23" y="461.72" width="8.09" height="66.20" fill="#BFB600" stroke="#FFFFFF" stroke-opacity="0.22" stroke-width="1" shape-rendering="crispEdges"/>
<rect x="515.23" y="64.52" width="8.09" height="66.20" fill="#ACC800" stroke="#FFFFFF" stroke-opacity="0.22" stroke-width="1" shape-rendering="crispEdges"/>
<rect x="523.31" y="130.72" width="8.09" height="66.20" fill="#D0A100" stroke="#FFFFFF" stroke-opacity="0.22" stroke-width="1" shape-rendering="crispEdges"/>
<rect x="523.31" y="196.92" width="8.09" height="66.20" fill="#DD8D00" stroke="#FFFFFF" stroke-opacity="0.22" stroke-width="1" shape-rendering="crispEdges"/>
<rect x="523.31" y="263.12" width="8.09" height="66.20" fill="#E18700" stroke="#FFFFFF" stroke-opacity="0.22" stroke-width="1" shape-rendering="crispEdges"/>
<rect x="523.31" y="329.32" width="8.09" height="66.20" fill="#EC6D00" stroke="#FFFFFF" stroke-opacity="0.22" stroke-width="1" shape-rendering="crispEdges"/>
<rect x="523.31" y="395.52" width="8.09" height="66.20" fill="#EE6700" stroke="#FFFFFF" stroke-opacity="0.22" stroke-width="1" shape-rendering="crispEdges"/>
<rect x="523.31" y="461.72" width="8.09" height="66.20" fill="#DD8D00" stroke="#FFFFFF" stroke-opacity="0.22" stroke-width="1" shape-rendering="crispEdges"/>
<rect x="523.31" y="64.52" width="8.09" height="66.20" fill="#DD8D00" stroke="#FFFFFF" stroke-opacity="0.22" stroke-width="1" shape-rendering="crispEdges"/>
<rect x="531.40" y="130.72" width="8.09" height="66.20" fill="#E67C00" stroke="#FFFFFF" stroke-opacity="0.22" stroke-width="1" shape-rendering="crispEdges"/>
<rect x="531.40" y="196.92" width="8.09" height="66.20" fill="#E87600" stroke="#FFFFFF" stroke-opacity="0.22" stroke-width="1" shape-rendering="crispEdges"/>
<rect x="531.40" y="263.12" width="8.09" height="66.20" fill="#E77800" stroke="#FFFFFF" stroke-opacity="0.22" stroke-width="1" shape-rendering="crispEdges"/>
<rect x="531.40" y="329.32" width="8.09" height="66.20" fill="#F06300" stroke="#FFFFFF" stroke-opacity="0.22" stroke-width="1" shape-rendering="crispEdges"/>
<rect x="531.40" y="395.52" width="8.09" height="66.20" fill="#ED6B00" stroke="#FFFFFF" stroke-opacity="0.22" stroke-width="1" shape-rendering="crispEdges"/>
<rect x="531.40" y="461.72" width="8.09" height="66.20" fill="#E08800" stroke="#FFFFFF" stroke-opacity="0.22" stroke-width="1" shape-rendering="crispEdges"/>
<rect x="531.40" y="64.52" width="8.09" height="66.20" fill="#DA9200" stroke="#FFFFFF" stroke-opacity="0.22" stroke-width="1" shape-rendering="crispEdges"/>
<rect x="539.49" y="130.72" width="8.09" height="66.20" fill="#DD8D00" stroke="#FFFFFF" stroke-opacity="0.22" stroke-width="1" shape-rendering="crispEdges"/>
<rect x="539.49" y="196.92" width="8.09" height="66.20" fill="#E18500" stroke="#FFFFFF" stroke-opacity="0.22" stroke-width="1" shape-rendering="crispEdges"/>
<rect x="539.49" y="263.12" width="8.09" height="66.20" fill="#E77900" stroke="#FFFFFF" stroke-opacity="0.22" stroke-width="1" shape-rendering="crispEdges"/>
<rect x="539.49" y="329.32" width="8.09" height="66.20" fill="#EF6600" stroke="#FFFFFF" stroke-opacity="0.22" stroke-width="1" shape-rendering="crispEdges"/>
<rect x="539.49" y="395.52" width="8.09" height="66.20" fill="#F25D00" stroke="#FFFFFF" stroke-opacity="0.22" stroke-width="1" shape-rendering="crispEdges"/>
<rect x="539.49" y="461.72" width="8.09" height="66.20" fill="#DD8D00" stroke="#FFFFFF" stroke-opacity="0.22" stroke-width="1" shape-rendering="crispEdges"/>
<rect x="539.49" y="64.52" width="8.09" height="66.20" fill="#D29F00" stroke="#FFFFFF" stroke-opacity="0.22" stroke-width="1" shape-rendering="crispEdges"/>
<rect x="547.58" y="130.72" width="8.09" height="66.20" fill="#D89500" stroke="#FFFFFF" stroke-opacity="0.22" stroke-width="1" shape-rendering="crispEdges"/>
<rect x="547.58" y="196.92" width="8.09" height="66.20" fill="#DE8A00" stroke="#FFFFFF" stroke-opacity="0.22" stroke-width="1" shape-rendering="crispEdges"/>
<rect x="547.58" y="263.12" width="8.09" height="66.20" fill="#E57E00" stroke="#FFFFFF" stroke-opacity="0.22" stroke-width="1" shape-rendering="crispEdges"/>
<rect x="547.58" y="329.32" width="8.09" height="66.20" fill="#F15F00" stroke="#FFFFFF" stroke-opacity="0.22" stroke-width="1" shape-rendering="crispEdges"/>
<rect x="547.58" y="395.52" width="8.09" height="66.20" fill="#F35900" stroke="#FFFFFF" stroke-opacity="0.22" stroke-width="1" shape-rendering="crispEdges"/>
<rect x="547.58" y="461.72" width="8.09" height="66.20" fill="#DB9000" stroke="#FFFFFF" stroke-opacity="0.22" stroke-width="1" shape-rendering="crispEdges"/>
<rect x="547.58" y="64.52" width="8.09" height="66.20" fill="#D39C00" stroke="#FFFFFF" stroke-opacity="0.22" stroke-width="1" shape-rendering="crispEdges"/>
<line x1="519.27" y1="534.5400000000001" x2="519.27" y2="537.29" stroke="#333333" stroke-width="1.07"/>
<text transform="translate(519.27,546.90) scale(1,1.12)" font-size="8.8" font-family="Liberation Sans, sans-serif" fill="#4D4D4D" text-anchor="middle">1</text>
<line x1="527.36" y1="534.5400000000001" x2="527.36" y2="537.29" stroke="#333333" stroke-width="1.07"/>
<text transform="translate(527.36,546.90) scale(1,1.12)" font-size="8.8" font-family="Liberation Sans, sans-serif" fill="#4D4D4D" text-anchor="middle">2</text>
<line x1="535.45" y1="534.5400000000001" x2="535.45" y2="537.29" stroke="#333333" stroke-width="1.07"/>
<text transform="translate(535.45,546.90) scale(1,1.12)" font-size="8.8" font-family="Liberation Sans, sans-serif" fill="#4D4D4D" text-anchor="middle">3</text>
<line x1="543.53" y1="534.5400000000001" x2="543.53" y2="537.29" stroke="#333333" stroke-width="1.07"/>
<text transform="translate(543.53,546.90) scale(1,1.12)" font-size="8.8" font-family="Liberation Sans, sans-serif" fill="#4D4D4D" text-anchor="middle">4</text>
<line x1="551.62" y1="534.5400000000001" x2="551.62" y2="537.29" stroke="#333333" stroke-width="1.07"/>
<text transform="translate(551.62,546.90) scale(1,1.12)" font-size="8.8" font-family="Liberation Sans, sans-serif" fill="#4D4D4D" text-anchor="middle">5</text>
<line x1="559.71" y1="534.5400000000001" x2="559.71" y2="537.29" stroke="#333333" stroke-width="1.07"/>
<text transform="translate(559.71,546.90) scale(1,1.12)" font-size="8.8" font-family="Liberation Sans, sans-serif" fill="#4D4D4D" text-anchor="middle">6</text>
<rect x="571.65" y="37.2" width="53.38" height="20.70" fill="#D9D9D9" shape-rendering="crispEdges"/>
<text transform="translate(598.34,50.70) scale(1,1.1)" font-size="8.8" font-family="Liberation Sans, sans-serif" fill="#1A1A1A" text-anchor="middle">Oct</text>
<rect x="571.65" y="57.9" width="53.38" height="476.64" fill="#EBEBEB" shape-rendering="crispEdges"/>
<line x1="574.08" y1="57.9" x2="574.08" y2="534.5400000000001" stroke="#FFFFFF" stroke-width="0.53"/>
<line x1="582.16" y1="57.9" x2="582.16" y2="534.5400000000001" stroke="#FFFFFF" stroke-width="0.53"/>
<line x1="590.25" y1="57.9" x2="590.25" y2="534.5400000000001" stroke="#FFFFFF" stroke-width="0.53"/>
<line x1="598.34" y1="57.9" x2="598.34" y2="534.5400000000001" stroke="#FFFFFF" stroke-width="0.53"/>
<line x1="606.43" y1="57.9" x2="606.43" y2="534.5400000000001" stroke="#FFFFFF" stroke-width="0.53"/>
<line x1="614.52" y1="57.9" x2="614.52" y2="534.5400000000001" stroke="#FFFFFF" stroke-width="0.53"/>
<line x1="622.60" y1="57.9" x2="622.60" y2="534.5400000000001" stroke="#FFFFFF" stroke-width="0.53"/>
<line x1="578.12" y1="57.9" x2="578.12" y2="534.5400000000001" stroke="#FFFFFF" stroke-width="1.07"/>
<line x1="586.21" y1="57.9" x2="586.21" y2="534.5400000000001" stroke="#FFFFFF" stroke-width="1.07"/>
<line x1="594.30" y1="57.9" x2="594.30" y2="534.5400000000001" stroke="#FFFFFF" stroke-width="1.07"/>
<line x1="602.38" y1="57.9" x2="602.38" y2="534.5400000000001" stroke="#FFFFFF" stroke-width="1.07"/>
<line x1="610.47" y1="57.9" x2="610.47" y2="534.5400000000001" stroke="#FFFFFF" stroke-width="1.07"/>
<line x1="618.56" y1="57.9" x2="618.56" y2="534.5400000000001" stroke="#FFFFFF" stroke-width="1.07"/>
<line x1="571.65" y1="97.62" x2="625.03" y2="97.62" stroke="#FFFFFF" stroke-width="1.07"/>
<line x1="571.65" y1="163.82" x2="625.03" y2="163.82" stroke="#FFFFFF" stroke-width="1.07"/>
<line x1="571.65" y1="230.02" x2="625.03" y2="230.02" stroke="#FFFFFF" stroke-width="1.07"/>
<line x1="571.65" y1="296.22" x2="625.03" y2="296.22" stroke="#FFFFFF" stroke-width="1.07"/>
<line x1="571.65" y1="362.42" x2="625.03" y2="362.42" stroke="#FFFFFF" stroke-width="1.07"/>
<line x1="571.65" y1="428.62" x2="625.03" y2="428.62" stroke="#FFFFFF" stroke-width="1.07"/>
<line x1="571.65" y1="494.82" x2="625.03" y2="494.82" stroke="#FFFFFF" stroke-width="1.07"/>
<rect x="574.08" y="130.72" width="8.09" height="66.20" fill="#DE8A00" stroke="#FFFFFF" stroke-opacity="0.22" stroke-width="1" shape-rendering="crispEdges"/>
<rect x="574.08" y="196.92" width="8.09" height="66.20" fill="#E18500" stroke="#FFFFFF" stroke-opacity="0.22" stroke-width="1" shape-rendering="crispEdges"/>
<rect x="574.08" y="263.12" width="8.09" height="66.20" fill="#E77900" stroke="#FFFFFF" stroke-opacity="0.22" stroke-width="1" shape-rendering="crispEdges"/>
<rect x="574.08" y="329.32" width="8.09" height="66.20" fill="#F15F00" stroke="#FFFFFF" stroke-opacity="0.22" stroke-width="1" shape-rendering="crispEdges"/>
<rect x="574.08" y="395.52" width="8.09" height="66.20" fill="#F55000" stroke="#FFFFFF" stroke-opacity="0.22" stroke-width="1" shape-rendering="crispEdges"/>
<rect x="574.08" y="461.72" width="8.09" height="66.20" fill="#E18500" stroke="#FFFFFF" stroke-opacity="0.22" stroke-width="1" shape-rendering="crispEdges"/>
<rect x="574.08" y="64.52" width="8.09" height="66.20" fill="#D39C00" stroke="#FFFFFF" stroke-opacity="0.22" stroke-width="1" shape-rendering="crispEdges"/>
<rect x="582.16" y="130.72" width="8.09" height="66.20" fill="#E08800" stroke="#FFFFFF" stroke-opacity="0.22" stroke-width="1" shape-rendering="crispEdges"/>
<rect x="582.16" y="196.92" width="8.09" height="66.20" fill="#E38200" stroke="#FFFFFF" stroke-opacity="0.22" stroke-width="1" shape-rendering="crispEdges"/>
<rect x="582.16" y="263.12" width="8.09" height="66.20" fill="#EB7000" stroke="#FFFFFF" stroke-opacity="0.22" stroke-width="1" shape-rendering="crispEdges"/>
<rect x="582.16" y="329.32" width="8.09" height="66.20" fill="#F06300" stroke="#FFFFFF" stroke-opacity="0.22" stroke-width="1" shape-rendering="crispEdges"/>
<rect x="582.16" y="395.52" width="8.09" height="66.20" fill="#F16000" stroke="#FFFFFF" stroke-opacity="0.22" stroke-width="1" shape-rendering="crispEdges"/>
<rect x="582.16" y="461.72" width="8.09" height="66.20" fill="#E08800" stroke="#FFFFFF" stroke-opacity="0.22" stroke-width="1" shape-rendering="crispEdges"/>
<rect x="582.16" y="64.52" width="8.09" height="66.20" fill="#C7AD00" stroke="#FFFFFF" stroke-opacity="0.22" stroke-width="1" shape-rendering="crispEdges"/>
<rect x="590.25" y="130.72" width="8.09" height="66.20" fill="#D79700" stroke="#FFFFFF" stroke-opacity="0.22" stroke-width="1" shape-rendering="crispEdges"/>
<rect x="590.25" y="196.92" width="8.09" height="66.20" fill="#E08800" stroke="#FFFFFF" stroke-opacity="0.22" stroke-width="1" shape-rendering="crispEdges"/>
<rect x="590.25" y="263.12" width="8.09" height="66.20" fill="#EB7000" stroke="#FFFFFF" stroke-opacity="0.22" stroke-width="1" shape-rendering="crispEdges"/>
<rect x="590.25" y="329.32" width="8.09" height="66.20" fill="#F35700" stroke="#FFFFFF" stroke-opacity="0.22" stroke-width="1" shape-rendering="crispEdges"/>
<rect x="590.25" y="395.52" width="8.09" height="66.20" fill="#F84500" stroke="#FFFFFF" stroke-opacity="0.22" stroke-width="1" shape-rendering="crispEdges"/>
<rect x="590.25" y="461.72" width="8.09" height="66.20" fill="#E47F00" stroke="#FFFFFF" stroke-opacity="0.22" stroke-width="1" shape-rendering="crispEdges"/>
<rect x="590.25" y="64.52" width="8.09" height="66.20" fill="#D39C00" stroke="#FFFFFF" stroke-opacity="0.22" stroke-width="1" shape-rendering="crispEdges"/>
<rect x="598.34" y="130.72" width="8.09" height="66.20" fill="#E47F00" stroke="#FFFFFF" stroke-opacity="0.22" stroke-width="1" shape-rendering="crispEdges"/>
<rect x="598.34" y="196.92" width="8.09" height="66.20" fill="#E77900" stroke="#FFFFFF" stroke-opacity="0.22" stroke-width="1" shape-rendering="crispEdges"/>
<rect x="598.34" y="263.12" width="8.09" height="66.20" fill="#EE6800" stroke="#FFFFFF" stroke-opacity="0.22" stroke-width="1" shape-rendering="crispEdges"/>
<rect x="598.34" y="329.32" width="8.09" height="66.20" fill="#F45300" stroke="#FFFFFF" stroke-opacity="0.22" stroke-width="1" shape-rendering="crispEdges"/>
<rect x="598.34" y="395.52" width="8.09" height="66.20" fill="#F55000" stroke="#FFFFFF" stroke-opacity="0.22" stroke-width="1" shape-rendering="crispEdges"/>
<rect x="598.34" y="461.72" width="8.09" height="66.20" fill="#E18500" stroke="#FFFFFF" stroke-opacity="0.22" stroke-width="1" shape-rendering="crispEdges"/>
<rect x="598.34" y="64.52" width="8.09" height="66.20" fill="#D39C00" stroke="#FFFFFF" stroke-opacity="0.22" stroke-width="1" shape-rendering="crispEdges"/>
<rect x="606.43" y="130.72" width="8.09" height="66.20" fill="#E18500" stroke="#FFFFFF" stroke-opacity="0.22" stroke-width="1" shape-rendering="crispEdges"/>
<rect x="606.43" y="196.92" width="8.09" height="66.20" fill="#E47F00" stroke="#FFFFFF" stroke-opacity="0.22" stroke-width="1" shape-rendering="crispEdges"/>
<rect x="606.43" y="263.12" width="8.09" height="66.20" fill="#E77900" stroke="#FFFFFF" stroke-opacity="0.22" stroke-width="1" shape-rendering="crispEdges"/>
<line x1="578.12" y1="534.5400000000001" x2="578.12" y2="537.29" stroke="#333333" stroke-width="1.07"/>
<text transform="translate(578.12,546.90) scale(1,1.12)" font-size="8.8" font-family="Liberation Sans, sans-serif" fill="#4D4D4D" text-anchor="middle">1</text>
<line x1="586.21" y1="534.5400000000001" x2="586.21" y2="537.29" stroke="#333333" stroke-width="1.07"/>
<text transform="translate(586.21,546.90) scale(1,1.12)" font-size="8.8" font-family="Liberation Sans, sans-serif" fill="#4D4D4D" text-anchor="middle">2</text>
<line x1="594.30" y1="534.5400000000001" x2="594.30" y2="537.29" stroke="#333333" stroke-width="1.07"/>
<text transform="translate(594.30,546.90) scale(1,1.12)" font-size="8.8" font-family="Liberation Sans, sans-serif" fill="#4D4D4D" text-anchor="middle">3</text>
<line x1="602.38" y1="534.5400000000001" x2="602.38" y2="537.29" stroke="#333333" stroke-width="1.07"/>
<text transform="translate(602.38,546.90) scale(1,1.12)" font-size="8.8" font-family="Liberation Sans, sans-serif" fill="#4D4D4D" text-anchor="middle">4</text>
<line x1="610.47" y1="534.5400000000001" x2="610.47" y2="537.29" stroke="#333333" stroke-width="1.07"/>
<text transform="translate(610.47,546.90) scale(1,1.12)" font-size="8.8" font-family="Liberation Sans, sans-serif" fill="#4D4D4D" text-anchor="middle">5</text>
<line x1="618.56" y1="534.5400000000001" x2="618.56" y2="537.29" stroke="#333333" stroke-width="1.07"/>
<text transform="translate(618.56,546.90) scale(1,1.12)" font-size="8.8" font-family="Liberation Sans, sans-serif" fill="#4D4D4D" text-anchor="middle">6</text>
<rect x="630.50" y="37.2" width="53.38" height="20.70" fill="#D9D9D9" shape-rendering="crispEdges"/>
<text transform="translate(657.19,50.70) scale(1,1.1)" font-size="8.8" font-family="Liberation Sans, sans-serif" fill="#1A1A1A" text-anchor="middle">Nov</text>
<rect x="630.50" y="57.9" width="53.38" height="476.64" fill="#EBEBEB" shape-rendering="crispEdges"/>
<line x1="632.93" y1="57.9" x2="632.93" y2="534.5400000000001" stroke="#FFFFFF" stroke-width="0.53"/>
<line x1="641.01" y1="57.9" x2="641.01" y2="534.5400000000001" stroke="#FFFFFF" stroke-width="0.53"/>
<line x1="649.10" y1="57.9" x2="649.10" y2="534.5400000000001" stroke="#FFFFFF" stroke-width="0.53"/>
<line x1="657.19" y1="57.9" x2="657.19" y2="534.5400000000001" stroke="#FFFFFF" stroke-width="0.53"/>
<line x1="665.28" y1="57.9" x2="665.28" y2="534.5400000000001" stroke="#FFFFFF" stroke-width="0.53"/>
<line x1="673.37" y1="57.9" x2="673.37" y2="534.5400000000001" stroke="#FFFFFF" stroke-width="0.53"/>
<line x1="681.45" y1="57.9" x2="681.45" y2="534.5400000000001" stroke="#FFFFFF" stroke-width="0.53"/>
<line x1="636.97" y1="57.9" x2="636.97" y2="534.5400000000001" stroke="#FFFFFF" stroke-width="1.07"/>
<line x1="645.06" y1="57.9" x2="645.06" y2="534.5400000000001" stroke="#FFFFFF" stroke-width="1.07"/>
<line x1="653.15" y1="57.9" x2="653.15" y2="534.5400000000001" stroke="#FFFFFF" stroke-width="1.07"/>
<line x1="661.23" y1="57.9" x2="661.23" y2="534.5400000000001" stroke="#FFFFFF" stroke-width="1.07"/>
<line x1="669.32" y1="57.9" x2="669.32" y2="534.5400000000001" stroke="#FFFFFF" stroke-width="1.07"/>
<line x1="677.41" y1="57.9" x2="677.41" y2="534.5400000000001" stroke="#FFFFFF" stroke-width="1.07"/>
<line x1="630.50" y1="97.62" x2="683.88" y2="97.62" stroke="#FFFFFF" stroke-width="1.07"/>
<line x1="630.50" y1="163.82" x2="683.88" y2="163.82" stroke="#FFFFFF" stroke-width="1.07"/>
<line x1="630.50" y1="230.02" x2="683.88" y2="230.02" stroke="#FFFFFF" stroke-width="1.07"/>
<line x1="630.50" y1="296.22" x2="683.88" y2="296.22" stroke="#FFFFFF" stroke-width="1.07"/>
<line x1="630.50" y1="362.42" x2="683.88" y2="362.42" stroke="#FFFFFF" stroke-width="1.07"/>
<line x1="630.50" y1="428.62" x2="683.88" y2="428.62" stroke="#FFFFFF" stroke-width="1.07"/>
<line x1="630.50" y1="494.82" x2="683.88" y2="494.82" stroke="#FFFFFF" stroke-width="1.07"/>
<rect x="632.93" y="329.32" width="8.09" height="66.20" fill="#F84500" stroke="#FFFFFF" stroke-opacity="0.22" stroke-width="1" shape-rendering="crispEdges"/>
<rect x="632.93" y="395.52" width="8.09" height="66.20" fill="#F45300" stroke="#FFFFFF" stroke-opacity="0.22" stroke-width="1" shape-rendering="crispEdges"/>
<rect x="632.93" y="461.72" width="8.09" height="66.20" fill="#E18500" stroke="#FFFFFF" stroke-opacity="0.22" stroke-width="1" shape-rendering="crispEdges"/>
<rect x="632.93" y="64.52" width="8.09" height="66.20" fill="#DD8D00" stroke="#FFFFFF" stroke-opacity="0.22" stroke-width="1" shape-rendering="crispEdges"/>
<rect x="641.01" y="130.72" width="8.09" height="66.20" fill="#E38200" stroke="#FFFFFF" stroke-opacity="0.22" stroke-width="1" shape-rendering="crispEdges"/>
<rect x="641.01" y="196.92" width="8.09" height="66.20" fill="#E47F00" stroke="#FFFFFF" stroke-opacity="0.22" stroke-width="1" shape-rendering="crispEdges"/>
<rect x="641.01" y="263.12" width="8.09" height="66.20" fill="#EB7000" stroke="#FFFFFF" stroke-opacity="0.22" stroke-width="1" shape-rendering="crispEdges"/>
<rect x="641.01" y="329.32" width="8.09" height="66.20" fill="#EF6600" stroke="#FFFFFF" stroke-opacity="0.22" stroke-width="1" shape-rendering="crispEdges"/>
<rect x="641.01" y="395.52" width="8.09" height="66.20" fill="#F45300" stroke="#FFFFFF" stroke-opacity="0.22" stroke-width="1" shape-rendering="crispEdges"/>
<rect x="641.01" y="461.72" width="8.09" height="66.20" fill="#E18500" stroke="#FFFFFF" stroke-opacity="0.22" stroke-width="1" shape-rendering="crispEdges"/>
<rect x="641.01" y="64.52" width="8.09" height="66.20" fill="#D0A100" stroke="#FFFFFF" stroke-opacity="0.22" stroke-width="1" shape-rendering="crispEdges"/>
<rect x="649.10" y="130.72" width="8.09" height="66.20" fill="#E38200" stroke="#FFFFFF" stroke-opacity="0.22" stroke-width="1" shape-rendering="crispEdges"/>
<rect x="649.10" y="196.92" width="8.09" height="66.20" fill="#E77900" stroke="#FFFFFF" stroke-opacity="0.22" stroke-width="1" shape-rendering="crispEdges"/>
<rect x="649.10" y="263.12" width="8.09" height="66.20" fill="#EB7000" stroke="#FFFFFF" stroke-opacity="0.22" stroke-width="1" shape-rendering="crispEdges"/>
<rect x="649.10" y="329.32" width="8.09" height="66.20" fill="#ED6900" stroke="#FFFFFF" stroke-opacity="0.22" stroke-width="1" shape-rendering="crispEdges"/>
<rect x="649.10" y="395.52" width="8.09" height="66.20" fill="#F35700" stroke="#FFFFFF" stroke-opacity="0.22" stroke-width="1" shape-rendering="crispEdges"/>
<rect x="649.10" y="461.72" width="8.09" height="66.20" fill="#E67C00" stroke="#FFFFFF" stroke-opacity="0.22" stroke-width="1" shape-rendering="crispEdges"/>
<rect x="649.10" y="64.52" width="8.09" height="66.20" fill="#D39C00" stroke="#FFFFFF" stroke-opacity="0.22" stroke-width="1" shape-rendering="crispEdges"/>
<rect x="657.19" y="130.72" width="8.09" height="66.20" fill="#E77900" stroke="#FFFFFF" stroke-opacity="0.22" stroke-width="1" shape-rendering="crispEdges"/>
<rect x="657.19" y="196.92" width="8.09" height="66.20" fill="#E87600" stroke="#FFFFFF" stroke-opacity="0.22" stroke-width="1" shape-rendering="crispEdges"/>
<rect x="657.19" y="263.12" width="8.09" height="66.20" fill="#EA7300" stroke="#FFFFFF" stroke-opacity="0.22" stroke-width="1" shape-rendering="crispEdges"/>
<rect x="657.19" y="329.32" width="8.09" height="66.20" fill="#EF6400" stroke="#FFFFFF" stroke-opacity="0.22" stroke-width="1" shape-rendering="crispEdges"/>
<rect x="657.19" y="395.52" width="8.09" height="66.20" fill="#F74A00" stroke="#FFFFFF" stroke-opacity="0.22" stroke-width="1" shape-rendering="crispEdges"/>
<rect x="657.19" y="461.72" width="8.09" height="66.20" fill="#E87600" stroke="#FFFFFF" stroke-opacity="0.22" stroke-width="1" shape-rendering="crispEdges"/>
<rect x="657.19" y="64.52" width="8.09" height="66.20" fill="#DA9200" stroke="#FFFFFF" stroke-opacity="0.22" stroke-width="1" shape-rendering="crispEdges"/>
<rect x="665.28" y="130.72" width="8.09" height="66.20" fill="#D59A00" stroke="#FFFFFF" stroke-opacity="0.22" stroke-width="1" shape-rendering="crispEdges"/>
<rect x="665.28" y="196.92" width="8.09" height="66.20" fill="#DA9200" stroke="#FFFFFF" stroke-opacity="0.22" stroke-width="1" shape-rendering="crispEdges"/>
<rect x="665.28" y="263.12" width="8.09" height="66.20" fill="#AACA00" stroke="#FFFFFF" stroke-opacity="0.22" stroke-width="1" shape-rendering="crispEdges"/>
<rect x="665.28" y="329.32" width="8.09" height="66.20" fill="#C5AF00" stroke="#FFFFFF" stroke-opacity="0.22" stroke-width="1" shape-rendering="crispEdges"/>
<rect x="665.28" y="395.52" width="8.09" height="66.20" fill="#DA9200" stroke="#FFFFFF" stroke-opacity="0.22" stroke-width="1" shape-rendering="crispEdges"/>
<line x1="636.97" y1="534.5400000000001" x2="636.97" y2="537.29" stroke="#333333" stroke-width="1.07"/>
<text transform="translate(636.97,546.90) scale(1,1.12)" font-size="8.8" font-family="Liberation Sans, sans-serif" fill="#4D4D4D" text-anchor="middle">1</text>
<line x1="645.06" y1="534.5400000000001" x2="645.06" y2="537.29" stroke="#333333" stroke-width="1.07"/>
<text transform="translate(645.06,546.90) scale(1,1.12)" font-size="8.8" font-family="Liberation Sans, sans-serif" fill="#4D4D4D" text-anchor="middle">2</text>
<line x1="653.15" y1="534.5400000000001" x2="653.15" y2="537.29" stroke="#333333" stroke-width="1.07"/>
<text transform="translate(653.15,546.90) scale(1,1.12)" font-size="8.8" font-family="Liberation Sans, sans-serif" fill="#4D4D4D" text-anchor="middle">3</text>
<line x1="661.23" y1="534.5400000000001" x2="661.23" y2="537.29" stroke="#333333" stroke-width="1.07"/>
<text transform="translate(661.23,546.90) scale(1,1.12)" font-size="8.8" font-family="Liberation Sans, sans-serif" fill="#4D4D4D" text-anchor="middle">4</text>
<line x1="669.32" y1="534.5400000000001" x2="669.32" y2="537.29" stroke="#333333" stroke-width="1.07"/>
<text transform="translate(669.32,546.90) scale(1,1.12)" font-size="8.8" font-family="Liberation Sans, sans-serif" fill="#4D4D4D" text-anchor="middle">5</text>
<line x1="677.41" y1="534.5400000000001" x2="677.41" y2="537.29" stroke="#333333" stroke-width="1.07"/>
<text transform="translate(677.41,546.90) scale(1,1.12)" font-size="8.8" font-family="Liberation Sans, sans-serif" fill="#4D4D4D" text-anchor="middle">6</text>
<rect x="689.35" y="37.2" width="53.38" height="20.70" fill="#D9D9D9" shape-rendering="crispEdges"/>
<text transform="translate(716.04,50.70) scale(1,1.1)" font-size="8.8" font-family="Liberation Sans, sans-serif" fill="#1A1A1A" text-anchor="middle">Dec</text>
<rect x="689.35" y="57.9" width="53.38" height="476.64" fill="#EBEBEB" shape-rendering="crispEdges"/>
<line x1="691.78" y1="57.9" x2="691.78" y2="534.5400000000001" stroke="#FFFFFF" stroke-width="0.53"/>
<line x1="699.86" y1="57.9" x2="699.86" y2="534.5400000000001" stroke="#FFFFFF" stroke-width="0.53"/>
<line x1="707.95" y1="57.9" x2="707.95" y2="534.5400000000001" stroke="#FFFFFF" stroke-width="0.53"/>
<line x1="716.04" y1="57.9" x2="716.04" y2="534.5400000000001" stroke="#FFFFFF" stroke-width="0.53"/>
<line x1="724.13" y1="57.9" x2="724.13" y2="534.5400000000001" stroke="#FFFFFF" stroke-width="0.53"/>
<line x1="732.22" y1="57.9" x2="732.22" y2="534.5400000000001" stroke="#FFFFFF" stroke-width="0.53"/>
<line x1="740.30" y1="57.9" x2="740.30" y2="534.5400000000001" stroke="#FFFFFF" stroke-width="0.53"/>
<line x1="695.82" y1="57.9" x2="695.82" y2="534.5400000000001" stroke="#FFFFFF" stroke-width="1.07"/>
<line x1="703.91" y1="57.9" x2="703.91" y2="534.5400000000001" stroke="#FFFFFF" stroke-width="1.07"/>
<line x1="712.00" y1="57.9" x2="712.00" y2="534.5400000000001" stroke="#FFFFFF" stroke-width="1.07"/>
<line x1="720.08" y1="57.9" x2="720.08" y2="534.5400000000001" stroke="#FFFFFF" stroke-width="1.07"/>
<line x1="728.17" y1="57.9" x2="728.17" y2="534.5400000000001" stroke="#FFFFFF" stroke-width="1.07"/>
<line x1="736.26" y1="57.9" x2="736.26" y2="534.5400000000001" stroke="#FFFFFF" stroke-width="1.07"/>
<line x1="689.35" y1="97.62" x2="742.73" y2="97.62" stroke="#FFFFFF" stroke-width="1.07"/>
<line x1="689.35" y1="163.82" x2="742.73" y2="163.82" stroke="#FFFFFF" stroke-width="1.07"/>
<line x1="689.35" y1="230.02" x2="742.73" y2="230.02" stroke="#FFFFFF" stroke-width="1.07"/>
<line x1="689.35" y1="296.22" x2="742.73" y2="296.22" stroke="#FFFFFF" stroke-width="1.07"/>
<line x1="689.35" y1="362.42" x2="742.73" y2="362.42" stroke="#FFFFFF" stroke-width="1.07"/>
<line x1="689.35" y1="428.62" x2="742.73" y2="428.62" stroke="#FFFFFF" stroke-width="1.07"/>
<line x1="689.35" y1="494.82" x2="742.73" y2="494.82" stroke="#FFFFFF" stroke-width="1.07"/>
<rect x="691.78" y="461.72" width="8.09" height="66.20" fill="#CBA800" stroke="#FFFFFF" stroke-opacity="0.22" stroke-width="1" shape-rendering="crispEdges"/>
<rect x="691.78" y="64.52" width="8.09" height="66.20" fill="#D29F00" stroke="#FFFFFF" stroke-opacity="0.22" stroke-width="1" shape-rendering="crispEdges"/>
<rect x="699.86" y="130.72" width="8.09" height="66.20" fill="#DD8D00" stroke="#FFFFFF" stroke-opacity="0.22" stroke-width="1" shape-rendering="crispEdges"/>
<rect x="699.86" y="196.92" width="8.09" height="66.20" fill="#E18500" stroke="#FFFFFF" stroke-opacity="0.22" stroke-width="1" shape-rendering="crispEdges"/>
<rect x="699.86" y="263.12" width="8.09" height="66.20" fill="#E77900" stroke="#FFFFFF" stroke-opacity="0.22" stroke-width="1" shape-rendering="crispEdges"/>
<rect x="699.86" y="329.32" width="8.09" height="66.20" fill="#F06300" stroke="#FFFFFF" stroke-opacity="0.22" stroke-width="1" shape-rendering="crispEdges"/>
<rect x="699.86" y="395.52" width="8.09" height="66.20" fill="#F74A00" stroke="#FFFFFF" stroke-opacity="0.22" stroke-width="1" shape-rendering="crispEdges"/>
<rect x="699.86" y="461.72" width="8.09" height="66.20" fill="#E47F00" stroke="#FFFFFF" stroke-opacity="0.22" stroke-width="1" shape-rendering="crispEdges"/>
<rect x="699.86" y="64.52" width="8.09" height="66.20" fill="#DA9200" stroke="#FFFFFF" stroke-opacity="0.22" stroke-width="1" shape-rendering="crispEdges"/>
<rect x="707.95" y="130.72" width="8.09" height="66.20" fill="#E67C00" stroke="#FFFFFF" stroke-opacity="0.22" stroke-width="1" shape-rendering="crispEdges"/>
<rect x="707.95" y="196.92" width="8.09" height="66.20" fill="#E47F00" stroke="#FFFFFF" stroke-opacity="0.22" stroke-width="1" shape-rendering="crispEdges"/>
<rect x="707.95" y="263.12" width="8.09" height="66.20" fill="#E87600" stroke="#FFFFFF" stroke-opacity="0.22" stroke-width="1" shape-rendering="crispEdges"/>
<rect x="707.95" y="329.32" width="8.09" height="66.20" fill="#F64F00" stroke="#FFFFFF" stroke-opacity="0.22" stroke-width="1" shape-rendering="crispEdges"/>
<rect x="707.95" y="395.52" width="8.09" height="66.20" fill="#EA7300" stroke="#FFFFFF" stroke-opacity="0.22" stroke-width="1" shape-rendering="crispEdges"/>
<rect x="707.95" y="461.72" width="8.09" height="66.20" fill="#DA9200" stroke="#FFFFFF" stroke-opacity="0.22" stroke-width="1" shape-rendering="crispEdges"/>
<rect x="707.95" y="64.52" width="8.09" height="66.20" fill="#DB9000" stroke="#FFFFFF" stroke-opacity="0.22" stroke-width="1" shape-rendering="crispEdges"/>
<rect x="716.04" y="130.72" width="8.09" height="66.20" fill="#E67C00" stroke="#FFFFFF" stroke-opacity="0.22" stroke-width="1" shape-rendering="crispEdges"/>
<rect x="716.04" y="196.92" width="8.09" height="66.20" fill="#E87600" stroke="#FFFFFF" stroke-opacity="0.22" stroke-width="1" shape-rendering="crispEdges"/>
<rect x="716.04" y="263.12" width="8.09" height="66.20" fill="#E87600" stroke="#FFFFFF" stroke-opacity="0.22" stroke-width="1" shape-rendering="crispEdges"/>
<rect x="716.04" y="329.32" width="8.09" height="66.20" fill="#ED6900" stroke="#FFFFFF" stroke-opacity="0.22" stroke-width="1" shape-rendering="crispEdges"/>
<rect x="716.04" y="395.52" width="8.09" height="66.20" fill="#E47F00" stroke="#FFFFFF" stroke-opacity="0.22" stroke-width="1" shape-rendering="crispEdges"/>
<rect x="716.04" y="461.72" width="8.09" height="66.20" fill="#CBA800" stroke="#FFFFFF" stroke-opacity="0.22" stroke-width="1" shape-rendering="crispEdges"/>
<rect x="716.04" y="64.52" width="8.09" height="66.20" fill="#C1B400" stroke="#FFFFFF" stroke-opacity="0.22" stroke-width="1" shape-rendering="crispEdges"/>
<rect x="724.13" y="130.72" width="8.09" height="66.20" fill="#BFB600" stroke="#FFFFFF" stroke-opacity="0.22" stroke-width="1" shape-rendering="crispEdges"/>
<rect x="724.13" y="196.92" width="8.09" height="66.20" fill="#76E900" stroke="#FFFFFF" stroke-opacity="0.22" stroke-width="1" shape-rendering="crispEdges"/>
<rect x="724.13" y="263.12" width="8.09" height="66.20" fill="#A7CC00" stroke="#FFFFFF" stroke-opacity="0.22" stroke-width="1" shape-rendering="crispEdges"/>
<rect x="724.13" y="329.32" width="8.09" height="66.20" fill="#C5AF00" stroke="#FFFFFF" stroke-opacity="0.22" stroke-width="1" shape-rendering="crispEdges"/>
<rect x="724.13" y="395.52" width="8.09" height="66.20" fill="#C5AF00" stroke="#FFFFFF" stroke-opacity="0.22" stroke-width="1" shape-rendering="crispEdges"/>
<rect x="724.13" y="461.72" width="8.09" height="66.20" fill="#CCA600" stroke="#FFFFFF" stroke-opacity="0.22" stroke-width="1" shape-rendering="crispEdges"/>
<rect x="724.13" y="64.52" width="8.09" height="66.20" fill="#CEA400" stroke="#FFFFFF" stroke-opacity="0.22" stroke-width="1" shape-rendering="crispEdges"/>
<rect x="732.22" y="130.72" width="8.09" height="66.20" fill="#E18500" stroke="#FFFFFF" stroke-opacity="0.22" stroke-width="1" shape-rendering="crispEdges"/>
<line x1="695.82" y1="534.5400000000001" x2="695.82" y2="537.29" stroke="#333333" stroke-width="1.07"/>
<text transform="translate(695.82,546.90) scale(1,1.12)" font-size="8.8" font-family="Liberation Sans, sans-serif" fill="#4D4D4D" text-anchor="middle">1</text>
<line x1="703.91" y1="534.5400000000001" x2="703.91" y2="537.29" stroke="#333333" stroke-width="1.07"/>
<text transform="translate(703.91,546.90) scale(1,1.12)" font-size="8.8" font-family="Liberation Sans, sans-serif" fill="#4D4D4D" text-anchor="middle">2</text>
<line x1="712.00" y1="534.5400000000001" x2="712.00" y2="537.29" stroke="#333333" stroke-width="1.07"/>
<text transform="translate(712.00,546.90) scale(1,1.12)" font-size="8.8" font-family="Liberation Sans, sans-serif" fill="#4D4D4D" text-anchor="middle">3</text>
<line x1="720.08" y1="534.5400000000001" x2="720.08" y2="537.29" stroke="#333333" stroke-width="1.07"/>
<text transform="translate(720.08,546.90) scale(1,1.12)" font-size="8.8" font-family="Liberation Sans, sans-serif" fill="#4D4D4D" text-anchor="middle">4</text>
<line x1="728.17" y1="534.5400000000001" x2="728.17" y2="537.29" stroke="#333333" stroke-width="1.07"/>
<text transform="translate(728.17,546.90) scale(1,1.12)" font-size="8.8" font-family="Liberation Sans, sans-serif" fill="#4D4D4D" text-anchor="middle">5</text>
<line x1="736.26" y1="534.5400000000001" x2="736.26" y2="537.29" stroke="#333333" stroke-width="1.07"/>
<text transform="translate(736.26,546.90) scale(1,1.12)" font-size="8.8" font-family="Liberation Sans, sans-serif" fill="#4D4D4D" text-anchor="middle">6</text>
<line x1="39.25" y1="97.62" x2="42.0" y2="97.62" stroke="#333333" stroke-width="1.07"/>
<text transform="translate(36.65,101.12) scale(1,1.1)" font-size="8.8" font-family="Liberation Sans, sans-serif" fill="#4D4D4D" text-anchor="end">Mon</text>
<line x1="39.25" y1="163.82" x2="42.0" y2="163.82" stroke="#333333" stroke-width="1.07"/>
<text transform="translate(36.65,167.32) scale(1,1.1)" font-size="8.8" font-family="Liberation Sans, sans-serif" fill="#4D4D4D" text-anchor="end">Tue</text>
<line x1="39.25" y1="230.02" x2="42.0" y2="230.02" stroke="#333333" stroke-width="1.07"/>
<text transform="translate(36.65,233.52) scale(1,1.1)" font-size="8.8" font-family="Liberation Sans, sans-serif" fill="#4D4D4D" text-anchor="end">Wed</text>
<line x1="39.25" y1="296.22" x2="42.0" y2="296.22" stroke="#333333" stroke-width="1.07"/>
<text transform="translate(36.65,299.72) scale(1,1.1)" font-size="8.8" font-family="Liberation Sans, sans-serif" fill="#4D4D4D" text-anchor="end">Thu</text>
<line x1="39.25" y1="362.42" x2="42.0" y2="362.42" stroke="#333333" stroke-width="1.07"/>
<text transform="translate(36.65,365.92) scale(1,1.1)" font-size="8.8" font-family="Liberation Sans, sans-serif" fill="#4D4D4D" text-anchor="end">Fri</text>
<line x1="39.25" y1="428.62" x2="42.0" y2="428.62" stroke="#333333" stroke-width="1.07"/>
<text transform="translate(36.65,432.12) scale(1,1.1)" font-size="8.8" font-family="Liberation Sans, sans-serif" fill="#4D4D4D" text-anchor="end">Sat</text>
<line x1="39.25" y1="494.82" x2="42.0" y2="494.82" stroke="#333333" stroke-width="1.07"/>
<text transform="translate(36.65,498.32) scale(1,1.1)" font-size="8.8" font-family="Liberation Sans, sans-serif" fill="#4D4D4D" text-anchor="end">Sun</text>
<rect x="743.00" y="57.9" width="18.0" height="476.64" fill="#D9D9D9" shape-rendering="crispEdges"/>
<text transform="translate(749.00,296.72) rotate(90) scale(1,1.1)" font-size="8.8" font-family="Liberation Sans, sans-serif" fill="#1A1A1A" text-anchor="middle">2013</text>
<text transform="translate(392.50,560.60) scale(1,0.95)" font-size="11" font-family="Liberation Sans, sans-serif" fill="#000000" text-anchor="middle">Week of month</text>
<text transform="translate(778.00,254.60) scale(1,0.95)" font-size="11" font-family="Liberation Sans, sans-serif" fill="#000000">Trips ('000s)</text>
<defs><linearGradient id="g" x1="0" y1="1" x2="0" y2="0">
<stop offset="0.000" stop-color="#00FF00"/>
<stop offset="0.050" stop-color="#49F700"/>
<stop offset="0.100" stop-color="#65EF00"/>
<stop offset="0.150" stop-color="#7AE700"/>
<stop offset="0.200" stop-color="#8ADF00"/>
<stop offset="0.250" stop-color="#98D700"/>
<stop offset="0.300" stop-color="#A4CE00"/>
<stop offset="0.350" stop-color="#AEC600"/>
<stop offset="0.400" stop-color="#B8BD00"/>
<stop offset="0.450" stop-color="#C1B400"/>
<stop offset="0.500" stop-color="#C9AB00"/>
<stop offset="0.550" stop-color="#D0A100"/>
<stop offset="0.600" stop-color="#D79800"/>
<stop offset="0.650" stop-color="#DD8D00"/>
<stop offset="0.700" stop-color="#E38200"/>
<stop offset="0.750" stop-color="#E87600"/>
<stop offset="0.800" stop-color="#ED6A00"/>
<stop offset="0.850" stop-color="#F25B00"/>
<stop offset="0.900" stop-color="#F74A00"/>
<stop offset="0.950" stop-color="#FB3300"/>
<stop offset="1.000" stop-color="#FF0000"/>
</linearGradient></defs>
<rect x="778.0" y="261.5" width="17.28" height="86.4" fill="url(#g)"/>
<line x1="778.0" y1="345.53" x2="781.46" y2="345.53" stroke="#FFFFFF" stroke-width="0.53" stroke-opacity="0.8"/>
<line x1="791.82" y1="345.53" x2="795.28" y2="345.53" stroke="#FFFFFF" stroke-width="0.53" stroke-opacity="0.8"/>
<text transform="translate(800.78,348.73) scale(1,1.15)" font-size="8.8" font-family="Liberation Sans, sans-serif" fill="#000000">200</text>
<line x1="778.0" y1="323.98" x2="781.46" y2="323.98" stroke="#FFFFFF" stroke-width="0.53" stroke-opacity="0.8"/>
<line x1="791.82" y1="323.98" x2="795.28" y2="323.98" stroke="#FFFFFF" stroke-width="0.53" stroke-opacity="0.8"/>
<text transform="translate(800.78,327.18) scale(1,1.15)" font-size="8.8" font-family="Liberation Sans, sans-serif" fill="#000000">300</text>
<line x1="778.0" y1="302.44" x2="781.46" y2="302.44" stroke="#FFFFFF" stroke-width="0.53" stroke-opacity="0.8"/>
<line x1="791.82" y1="302.44" x2="795.28" y2="302.44" stroke="#FFFFFF" stroke-width="0.53" stroke-opacity="0.8"/>
<text transform="translate(800.78,305.64) scale(1,1.15)" font-size="8.8" font-family="Liberation Sans, sans-serif" fill="#000000">400</text>
<line x1="778.0" y1="280.89" x2="781.46" y2="280.89" stroke="#FFFFFF" stroke-width="0.53" stroke-opacity="0.8"/>
<line x1="791.82" y1="280.89" x2="795.28" y2="280.89" stroke="#FFFFFF" stroke-width="0.53" stroke-opacity="0.8"/>
<text transform="translate(800.78,284.09) scale(1,1.15)" font-size="8.8" font-family="Liberation Sans, sans-serif" fill="#000000">500</text>
</svg></body></html>
